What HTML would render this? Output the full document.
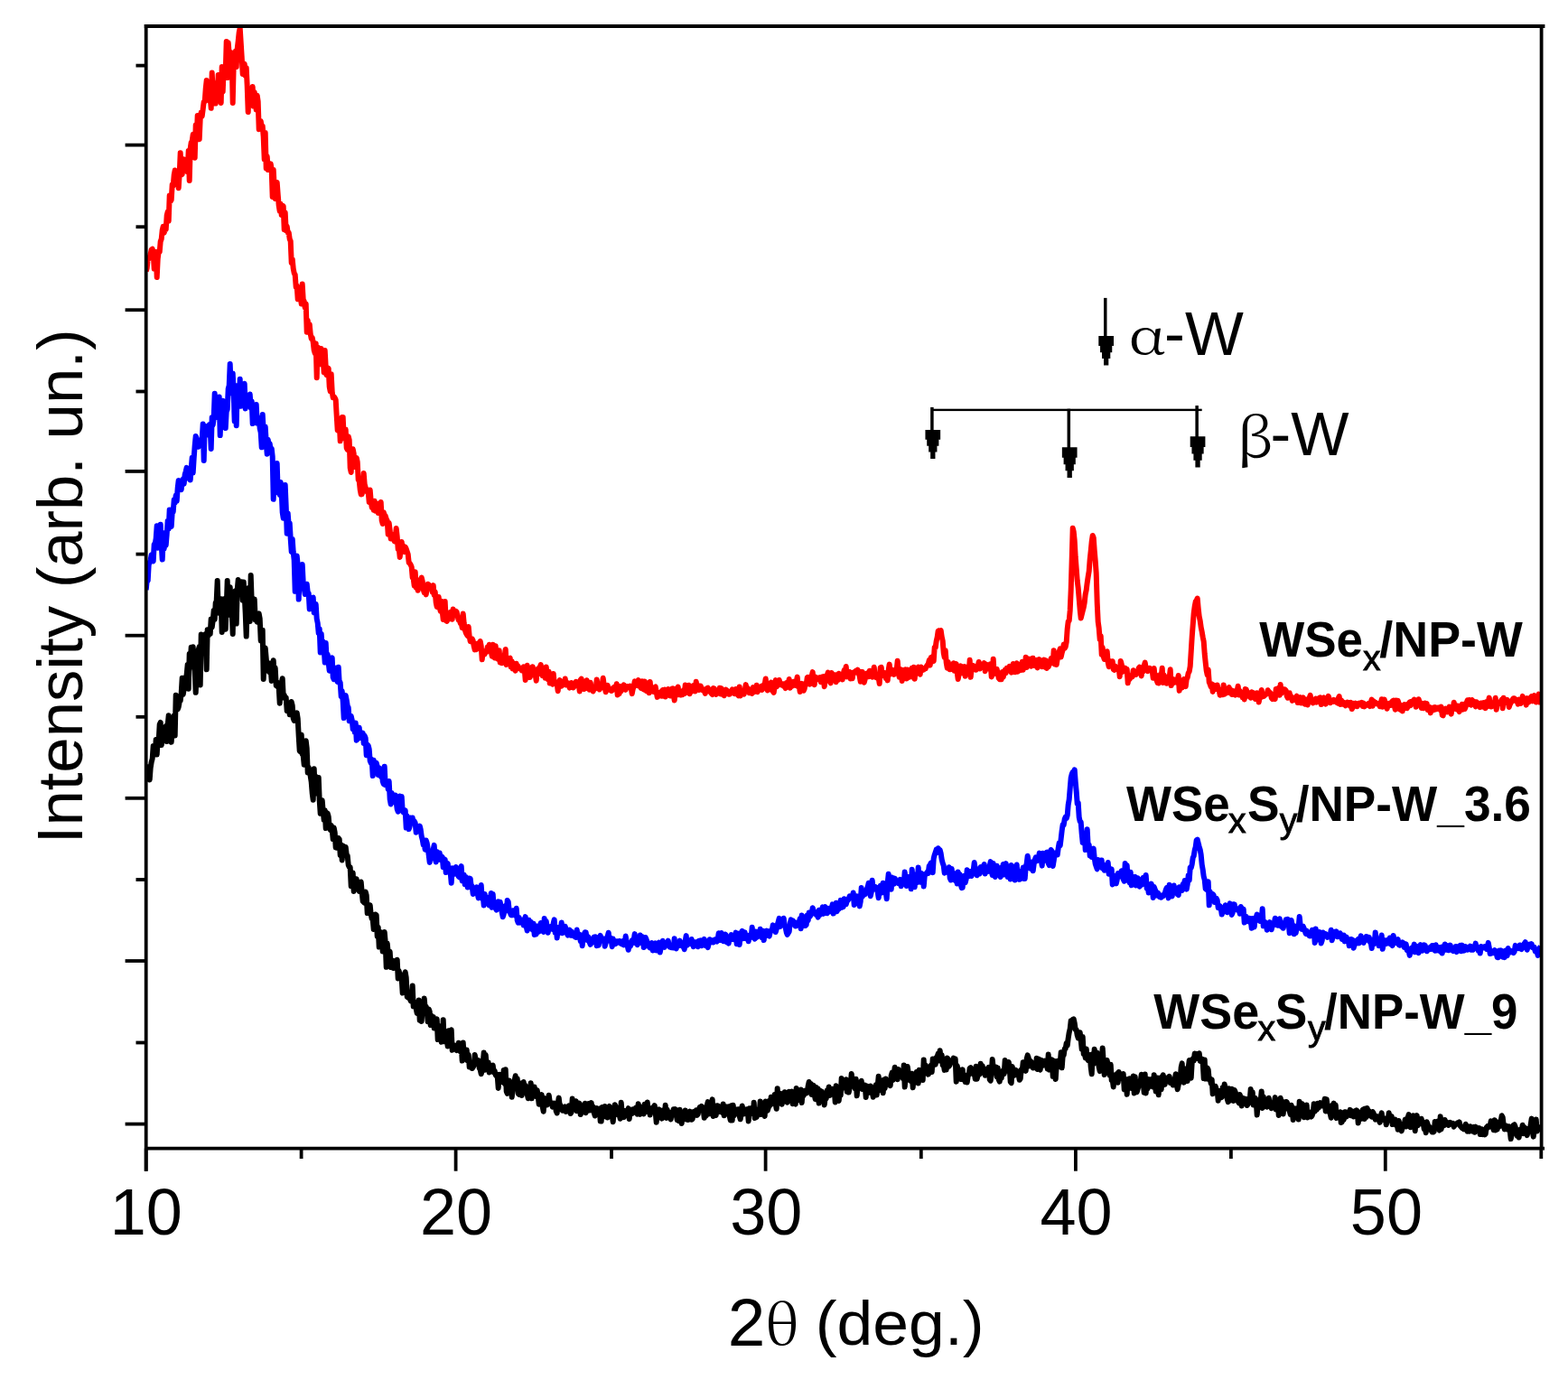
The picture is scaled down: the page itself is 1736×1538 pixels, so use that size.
<!DOCTYPE html>
<html><head><meta charset="utf-8"><title>XRD</title>
<style>
html,body{margin:0;padding:0;background:#fff;}
body{width:1736px;height:1538px;overflow:hidden;}
svg{display:block;}
.t{font-family:"Liberation Sans",Arial,sans-serif;fill:#000;}
.g{font-family:"Noto Serif CJK SC","Liberation Serif",serif;font-weight:400;fill:#000;}
.b{font-family:"Liberation Sans",Arial,sans-serif;font-weight:bold;fill:#000;}
</style></head>
<body>
<svg width="1736" height="1538" viewBox="0 0 1736 1538">
<rect x="0" y="0" width="1736" height="1538" fill="#fff"/>
<defs><clipPath id="pc"><rect x="161.7" y="0" width="1545" height="1300"/></clipPath></defs>
<g fill="none" stroke-width="6" stroke-linejoin="round" stroke-linecap="butt" clip-path="url(#pc)">
<path stroke="#ff0000" d="M161.7 300.5L162.7 297.0L163.7 286.8L164.7 286.6L165.7 284.7L166.7 280.8L167.7 276.4L168.7 275.7L169.7 279.3L170.7 297.6L171.7 287.8L172.7 279.0L173.7 307.0L174.7 286.7L175.7 278.2L176.7 279.0L177.7 267.3L178.7 264.7L179.7 254.8L180.7 250.7L181.7 257.7L182.7 254.2L183.7 254.1L184.7 238.6L185.7 234.6L186.7 244.8L187.7 216.5L188.7 223.1L189.7 221.3L190.7 204.5L191.7 205.7L192.7 193.9L193.7 188.5L194.7 200.9L195.7 197.5L196.7 198.0L197.7 208.3L198.7 192.9L199.7 169.3L200.7 190.2L201.7 193.1L202.7 182.0L203.7 176.4L204.7 179.0L205.7 183.1L206.7 180.2L207.7 190.4L208.7 167.1L209.7 200.0L210.7 164.4L211.7 157.8L212.7 156.2L213.7 148.8L214.7 156.6L215.7 174.7L216.7 138.5L217.7 154.1L218.7 127.9L219.7 138.2L220.7 154.2L221.7 131.6L222.7 124.3L223.7 128.7L224.7 121.0L225.7 112.9L226.7 112.5L227.7 98.4L228.7 89.1L229.7 107.7L230.7 98.1L231.7 111.6L232.7 107.1L233.7 119.8L234.7 80.6L235.7 99.5L236.7 103.9L237.7 95.4L238.7 114.6L239.7 92.1L240.7 103.3L241.7 82.9L242.7 101.0L243.7 107.8L244.7 114.0L245.7 74.1L246.7 101.3L247.7 76.5L248.7 74.7L249.7 81.0L250.7 46.1L251.7 86.1L252.7 47.2L253.7 59.4L254.7 71.3L255.7 58.0L256.7 65.6L257.7 114.0L258.7 71.8L259.7 60.8L260.7 56.9L261.7 74.1L262.7 54.0L263.7 45.5L264.7 35.9L265.7 31.0L266.7 47.2L267.7 63.3L268.7 81.9L269.7 76.0L270.7 70.8L271.7 83.8L272.7 75.0L273.7 95.4L274.7 124.0L275.7 100.2L276.7 104.2L277.7 115.3L278.7 109.2L279.7 96.1L280.7 117.5L281.7 102.0L282.7 107.1L283.7 121.5L284.7 105.7L285.7 112.5L286.7 143.2L287.7 134.1L288.7 134.1L289.7 140.2L290.7 139.7L291.7 151.6L292.7 176.5L293.7 147.1L294.7 186.4L295.7 173.1L296.7 188.0L297.7 182.8L298.7 185.9L299.7 181.4L300.7 187.9L301.7 218.0L302.7 188.0L303.7 206.8L304.7 219.9L305.7 205.9L306.7 202.0L307.7 215.5L308.7 227.5L309.7 233.8L310.7 225.8L311.7 238.1L312.7 229.3L313.7 228.3L314.7 254.2L315.7 235.5L316.7 255.2L317.7 250.7L318.7 257.5L319.7 257.5L320.7 264.7L321.7 266.9L322.7 290.9L323.7 286.8L324.7 297.3L325.7 302.5L326.7 304.3L327.7 317.8L328.7 316.5L329.7 331.3L330.7 323.1L331.7 329.6L332.7 328.0L333.7 336.6L334.7 314.6L335.7 331.6L336.7 333.6L337.7 340.6L338.7 336.3L339.7 367.7L340.7 354.7L341.7 368.0L342.7 359.0L343.7 369.5L344.7 374.9L345.7 373.9L346.7 378.8L347.7 387.8L348.7 391.3L349.7 380.4L350.7 418.2L351.7 386.1L352.7 385.2L353.7 393.7L354.7 403.2L355.7 386.1L356.7 401.1L357.7 396.3L358.7 412.4L359.7 388.1L360.7 406.1L361.7 415.3L362.7 408.8L363.7 408.0L364.7 428.1L365.7 433.4L366.7 414.3L367.7 433.7L368.7 440.3L369.7 439.2L370.7 440.5L371.7 442.7L372.7 460.2L373.7 476.4L374.7 468.0L375.7 465.8L376.7 488.3L377.7 476.2L378.7 461.9L379.7 461.9L380.7 485.0L381.7 483.7L382.7 475.6L383.7 495.9L384.7 498.0L385.7 483.2L386.7 487.2L387.7 518.2L388.7 523.0L389.7 501.4L390.7 497.2L391.7 502.4L392.7 517.1L393.7 516.8L394.7 507.0L395.7 511.4L396.7 531.4L397.7 532.2L398.7 542.2L399.7 547.4L400.7 547.3L401.7 541.6L402.7 524.1L403.7 536.4L404.7 539.7L405.7 542.7L406.7 545.0L407.7 545.1L408.7 556.0L409.7 542.4L410.7 554.8L411.7 561.9L412.7 559.1L413.7 564.8L414.7 554.8L415.7 565.8L416.7 557.2L417.7 562.3L418.7 568.0L419.7 564.6L420.7 566.0L421.7 556.0L422.7 576.3L423.7 580.0L424.7 567.3L425.7 570.2L426.7 571.3L427.7 574.6L428.7 576.6L429.7 591.6L430.7 579.0L431.7 587.3L432.7 596.5L433.7 591.4L434.7 596.1L435.7 596.2L436.7 599.3L437.7 594.8L438.7 585.0L439.7 594.1L440.7 608.1L441.7 607.0L442.7 616.9L443.7 609.1L444.7 599.9L445.7 607.0L446.7 604.6L447.7 611.1L448.7 605.7L449.7 607.6L450.7 610.6L451.7 613.6L452.7 623.0L453.7 623.8L454.7 625.4L455.7 627.8L456.7 639.6L457.7 640.6L458.7 648.7L459.7 633.2L460.7 650.6L461.7 646.0L462.7 653.8L463.7 646.1L464.7 642.4L465.7 646.1L466.7 639.5L467.7 643.4L468.7 652.8L469.7 656.3L470.7 652.1L471.7 658.4L472.7 652.1L473.7 646.7L474.7 647.6L475.7 650.4L476.7 649.2L477.7 649.5L478.7 655.6L479.7 648.1L480.7 658.7L481.7 655.3L482.7 667.1L483.7 671.9L484.7 667.2L485.7 661.0L486.7 672.9L487.7 676.6L488.7 665.8L489.7 676.7L490.7 685.9L491.7 684.1L492.7 666.1L493.7 687.1L494.7 687.9L495.7 681.9L496.7 685.7L497.7 681.9L498.7 677.9L499.7 680.9L500.7 685.8L501.7 674.5L502.7 677.9L503.7 680.8L504.7 676.6L505.7 677.9L506.7 682.6L507.7 686.6L508.7 685.4L509.7 690.2L510.7 689.8L511.7 695.2L512.7 679.6L513.7 690.0L514.7 697.2L515.7 700.5L516.7 702.4L517.7 704.1L518.7 694.1L519.7 704.9L520.7 710.1L521.7 708.6L522.7 707.4L523.7 709.4L524.7 715.4L525.7 719.4L526.7 718.0L527.7 719.0L528.7 712.6L529.7 713.9L530.7 717.6L531.7 710.0L532.7 715.4L533.7 730.3L534.7 721.7L535.7 721.1L536.7 724.3L537.7 721.6L538.7 722.0L539.7 716.6L540.7 720.6L541.7 713.8L542.7 716.9L543.7 720.9L544.7 726.6L545.7 713.7L546.7 725.1L547.7 728.3L548.7 715.3L549.7 728.5L550.7 729.6L551.7 727.7L552.7 720.3L553.7 733.5L554.7 726.1L555.7 734.3L556.7 729.0L557.7 728.2L558.7 725.9L559.7 719.0L560.7 736.0L561.7 732.4L562.7 731.0L563.7 729.2L564.7 728.7L565.7 738.4L566.7 732.1L567.7 740.6L568.7 734.4L569.7 739.1L570.7 742.7L571.7 734.8L572.7 740.1L573.7 737.8L574.7 740.0L575.7 739.9L576.7 741.0L577.7 742.4L578.7 740.5L579.7 738.3L580.7 740.5L581.7 753.0L582.7 743.8L583.7 736.7L584.7 742.1L585.7 741.1L586.7 750.1L587.7 742.9L588.7 747.7L589.7 738.2L590.7 742.9L591.7 746.4L592.7 746.6L593.7 753.8L594.7 742.7L595.7 740.4L596.7 746.1L597.7 738.9L598.7 736.1L599.7 741.2L600.7 748.3L601.7 746.3L602.7 742.7L603.7 750.8L604.7 738.4L605.7 748.5L606.7 752.2L607.7 743.7L608.7 756.5L609.7 751.8L610.7 756.2L611.7 757.7L612.7 745.9L613.7 756.6L614.7 755.8L615.7 757.0L616.7 757.1L617.7 765.2L618.7 755.0L619.7 753.1L620.7 756.5L621.7 759.6L622.7 757.6L623.7 757.0L624.7 756.2L625.7 751.5L626.7 758.5L627.7 757.0L628.7 756.3L629.7 756.4L630.7 761.6L631.7 758.5L632.7 756.1L633.7 758.7L634.7 761.5L635.7 760.2L636.7 757.1L637.7 754.8L638.7 756.5L639.7 756.6L640.7 757.1L641.7 765.4L642.7 752.9L643.7 751.6L644.7 759.6L645.7 756.6L646.7 763.1L647.7 759.3L648.7 762.2L649.7 753.2L650.7 757.1L651.7 757.3L652.7 763.7L653.7 755.8L654.7 761.6L655.7 761.8L656.7 765.5L657.7 762.0L658.7 760.3L659.7 762.1L660.7 752.6L661.7 758.7L662.7 761.3L663.7 763.5L664.7 762.2L665.7 759.1L666.7 757.9L667.7 750.8L668.7 758.1L669.7 761.7L670.7 766.3L671.7 762.6L672.7 758.9L673.7 763.4L674.7 763.4L675.7 764.2L676.7 765.0L677.7 764.5L678.7 761.8L679.7 761.0L680.7 763.1L681.7 761.2L682.7 757.2L683.7 769.5L684.7 762.9L685.7 768.0L686.7 760.1L687.7 765.3L688.7 761.6L689.7 761.9L690.7 758.4L691.7 761.1L692.7 763.8L693.7 759.9L694.7 759.9L695.7 760.5L696.7 761.0L697.7 759.8L698.7 761.5L699.7 768.1L700.7 763.1L701.7 760.1L702.7 754.4L703.7 756.3L704.7 758.9L705.7 755.7L706.7 753.1L707.7 759.8L708.7 756.5L709.7 762.0L710.7 754.3L711.7 762.7L712.7 763.5L713.7 754.4L714.7 760.8L715.7 765.2L716.7 760.3L717.7 756.3L718.7 767.2L719.7 754.9L720.7 765.5L721.7 761.2L722.7 762.9L723.7 766.0L724.7 761.2L725.7 760.5L726.7 766.3L727.7 771.9L728.7 770.6L729.7 770.7L730.7 767.3L731.7 766.1L732.7 770.8L733.7 764.0L734.7 764.4L735.7 763.7L736.7 771.6L737.7 768.7L738.7 769.3L739.7 763.0L740.7 766.2L741.7 770.4L742.7 770.4L743.7 762.6L744.7 762.3L745.7 768.1L746.7 775.5L747.7 765.3L748.7 762.7L749.7 763.3L750.7 760.6L751.7 769.3L752.7 769.0L753.7 769.5L754.7 766.3L755.7 769.1L756.7 764.3L757.7 768.2L758.7 758.5L759.7 766.9L760.7 766.3L761.7 762.9L762.7 758.7L763.7 768.2L764.7 763.6L765.7 764.8L766.7 765.2L767.7 759.1L768.7 762.0L769.7 765.4L770.7 754.7L771.7 761.6L772.7 759.0L773.7 764.0L774.7 762.1L775.7 759.5L776.7 762.3L777.7 764.2L778.7 764.8L779.7 763.8L780.7 767.9L781.7 763.9L782.7 762.1L783.7 761.6L784.7 765.1L785.7 763.6L786.7 766.7L787.7 767.9L788.7 769.0L789.7 762.0L790.7 762.3L791.7 765.9L792.7 768.9L793.7 766.8L794.7 767.1L795.7 766.9L796.7 761.8L797.7 768.4L798.7 762.3L799.7 766.8L800.7 769.5L801.7 770.1L802.7 766.9L803.7 763.7L804.7 764.4L805.7 765.6L806.7 768.7L807.7 768.8L808.7 765.7L809.7 765.3L810.7 763.4L811.7 767.4L812.7 764.7L813.7 768.3L814.7 763.0L815.7 767.0L816.7 768.3L817.7 770.3L818.7 760.4L819.7 770.4L820.7 764.4L821.7 766.4L822.7 767.6L823.7 768.6L824.7 764.2L825.7 758.1L826.7 764.0L827.7 761.7L828.7 764.0L829.7 767.3L830.7 765.6L831.7 765.2L832.7 767.9L833.7 761.1L834.7 766.2L835.7 763.8L836.7 763.8L837.7 758.7L838.7 766.2L839.7 762.7L840.7 763.8L841.7 763.4L842.7 760.2L843.7 763.9L844.7 759.0L845.7 759.1L846.7 757.6L847.7 751.5L848.7 762.0L849.7 764.5L850.7 759.3L851.7 763.5L852.7 757.0L853.7 755.7L854.7 759.7L855.7 765.5L856.7 766.8L857.7 759.5L858.7 753.1L859.7 760.4L860.7 759.0L861.7 756.7L862.7 753.0L863.7 757.1L864.7 758.3L865.7 758.6L866.7 757.5L867.7 759.6L868.7 757.4L869.7 762.1L870.7 756.0L871.7 756.8L872.7 759.5L873.7 752.0L874.7 761.8L875.7 756.2L876.7 759.9L877.7 757.8L878.7 754.8L879.7 755.0L880.7 759.0L881.7 755.2L882.7 749.6L883.7 760.2L884.7 759.9L885.7 766.0L886.7 759.3L887.7 756.9L888.7 759.6L889.7 764.8L890.7 762.5L891.7 756.6L892.7 757.9L893.7 750.3L894.7 749.8L895.7 753.4L896.7 757.7L897.7 751.9L898.7 748.4L899.7 744.1L900.7 754.5L901.7 758.2L902.7 749.5L903.7 751.3L904.7 751.5L905.7 751.9L906.7 750.4L907.7 750.1L908.7 755.3L909.7 749.7L910.7 749.3L911.7 749.0L912.7 760.2L913.7 752.8L914.7 752.3L915.7 747.7L916.7 744.7L917.7 752.1L918.7 754.3L919.7 756.3L920.7 744.9L921.7 749.6L922.7 752.6L923.7 747.1L924.7 749.6L925.7 755.2L926.7 746.9L927.7 753.0L928.7 745.8L929.7 749.2L930.7 748.8L931.7 749.4L932.7 752.5L933.7 746.0L934.7 742.0L935.7 744.3L936.7 738.0L937.7 749.6L938.7 746.3L939.7 747.8L940.7 744.0L941.7 751.6L942.7 745.6L943.7 751.2L944.7 744.6L945.7 745.2L946.7 743.6L947.7 742.7L948.7 744.3L949.7 741.7L950.7 745.3L951.7 748.9L952.7 754.8L953.7 744.0L954.7 743.9L955.7 752.9L956.7 755.7L957.7 752.1L958.7 746.1L959.7 745.6L960.7 745.1L961.7 749.3L962.7 742.7L963.7 743.2L964.7 744.5L965.7 749.7L966.7 746.7L967.7 738.7L968.7 746.7L969.7 750.0L970.7 746.9L971.7 751.0L972.7 750.3L973.7 757.1L974.7 739.3L975.7 738.9L976.7 746.9L977.7 747.8L978.7 747.0L979.7 745.2L980.7 751.0L981.7 747.8L982.7 753.4L983.7 741.7L984.7 735.6L985.7 746.5L986.7 745.4L987.7 744.1L988.7 741.9L989.7 746.9L990.7 744.2L991.7 743.5L992.7 741.8L993.7 731.7L994.7 745.1L995.7 749.8L996.7 740.9L997.7 743.2L998.7 754.1L999.7 742.0L1000.7 747.2L1001.7 746.7L1002.7 741.4L1003.7 751.4L1004.7 741.6L1005.7 747.5L1006.7 749.8L1007.7 741.4L1008.7 745.2L1009.7 739.7L1010.7 749.7L1011.7 738.8L1012.7 751.8L1013.7 741.0L1014.7 745.0L1015.7 741.1L1016.7 738.6L1017.7 744.6L1018.7 746.7L1019.7 738.6L1020.7 742.4L1021.7 741.0L1022.7 741.5L1023.7 739.8L1024.7 740.2L1025.7 737.9L1026.7 736.4L1027.7 735.2L1028.7 731.1L1029.7 736.6L1030.7 728.1L1031.7 729.1L1032.7 726.9L1033.7 732.1L1034.7 716.9L1035.7 717.0L1036.7 709.7L1037.7 705.5L1038.7 698.5L1039.7 698.2L1040.7 698.9L1041.7 698.1L1042.7 705.2L1043.7 709.6L1044.7 722.8L1045.7 727.8L1046.7 720.3L1047.7 733.8L1048.7 739.6L1049.7 732.9L1050.7 737.9L1051.7 741.3L1052.7 738.2L1053.7 741.0L1054.7 740.6L1055.7 734.3L1056.7 742.8L1057.7 738.7L1058.7 735.1L1059.7 744.7L1060.7 752.0L1061.7 746.7L1062.7 739.8L1063.7 737.4L1064.7 742.6L1065.7 741.5L1066.7 745.8L1067.7 738.1L1068.7 748.7L1069.7 739.6L1070.7 738.7L1071.7 741.7L1072.7 744.1L1073.7 730.8L1074.7 749.8L1075.7 738.2L1076.7 738.5L1077.7 737.2L1078.7 740.6L1079.7 741.5L1080.7 741.7L1081.7 739.3L1082.7 737.6L1083.7 733.0L1084.7 740.6L1085.7 735.1L1086.7 739.0L1087.7 736.9L1088.7 738.9L1089.7 734.1L1090.7 743.2L1091.7 735.4L1092.7 736.3L1093.7 736.5L1094.7 740.6L1095.7 740.7L1096.7 735.2L1097.7 749.4L1098.7 747.4L1099.7 729.7L1100.7 746.1L1101.7 740.5L1102.7 744.4L1103.7 741.0L1104.7 745.9L1105.7 750.8L1106.7 752.0L1107.7 747.3L1108.7 752.3L1109.7 743.9L1110.7 749.6L1111.7 746.1L1112.7 741.9L1113.7 745.1L1114.7 739.8L1115.7 740.1L1116.7 741.9L1117.7 737.9L1118.7 740.4L1119.7 744.6L1120.7 743.3L1121.7 734.9L1122.7 740.2L1123.7 744.3L1124.7 737.0L1125.7 734.4L1126.7 743.7L1127.7 738.5L1128.7 736.8L1129.7 742.3L1130.7 735.9L1131.7 732.8L1132.7 741.8L1133.7 734.7L1134.7 739.3L1135.7 727.7L1136.7 739.1L1137.7 736.9L1138.7 729.4L1139.7 734.8L1140.7 735.1L1141.7 737.7L1142.7 729.0L1143.7 728.8L1144.7 735.1L1145.7 737.0L1146.7 731.4L1147.7 730.9L1148.7 739.4L1149.7 735.1L1150.7 730.1L1151.7 734.1L1152.7 734.6L1153.7 738.1L1154.7 733.2L1155.7 730.6L1156.7 738.5L1157.7 731.1L1158.7 740.0L1159.7 737.1L1160.7 738.2L1161.7 736.0L1162.7 732.4L1163.7 729.1L1164.7 729.3L1165.7 734.1L1166.7 720.3L1167.7 735.4L1168.7 725.0L1169.7 735.9L1170.7 729.8L1171.7 726.1L1172.7 721.4L1173.7 718.3L1174.7 727.4L1175.7 722.8L1176.7 719.5L1177.7 713.5L1178.7 717.8L1179.7 716.2L1180.7 711.0L1181.7 696.4L1182.7 688.2L1183.7 687.3L1184.7 675.9L1185.7 653.1L1186.7 619.8L1187.7 584.8L1188.7 588.8L1189.7 598.9L1190.7 617.1L1191.7 629.8L1192.7 642.9L1193.7 651.1L1194.7 663.1L1195.7 675.1L1196.7 684.4L1197.7 680.6L1198.7 676.6L1199.7 672.8L1200.7 667.2L1201.7 658.0L1202.7 653.4L1203.7 645.2L1204.7 638.5L1205.7 632.4L1206.7 619.2L1207.7 610.0L1208.7 599.8L1209.7 592.9L1210.7 595.3L1211.7 609.5L1212.7 620.7L1213.7 634.8L1214.7 667.7L1215.7 688.3L1216.7 695.7L1217.7 708.0L1218.7 704.2L1219.7 724.5L1220.7 717.0L1221.7 727.1L1222.7 730.0L1223.7 728.1L1224.7 728.6L1225.7 721.2L1226.7 733.5L1227.7 738.2L1228.7 732.8L1229.7 732.4L1230.7 735.6L1231.7 732.2L1232.7 741.2L1233.7 742.0L1234.7 737.7L1235.7 739.8L1236.7 739.5L1237.7 740.5L1238.7 739.7L1239.7 749.2L1240.7 731.9L1241.7 735.3L1242.7 744.0L1243.7 739.1L1244.7 742.2L1245.7 739.7L1246.7 741.3L1247.7 741.0L1248.7 756.3L1249.7 748.1L1250.7 752.1L1251.7 748.8L1252.7 748.7L1253.7 749.3L1254.7 742.2L1255.7 743.3L1256.7 743.4L1257.7 747.0L1258.7 744.9L1259.7 744.7L1260.7 739.9L1261.7 738.6L1262.7 740.3L1263.7 748.5L1264.7 739.8L1265.7 743.5L1266.7 736.9L1267.7 733.7L1268.7 739.6L1269.7 741.5L1270.7 743.1L1271.7 741.9L1272.7 739.8L1273.7 740.9L1274.7 742.8L1275.7 742.6L1276.7 750.8L1277.7 740.1L1278.7 749.7L1279.7 747.2L1280.7 753.6L1281.7 756.2L1282.7 756.5L1283.7 754.2L1284.7 746.8L1285.7 748.9L1286.7 739.8L1287.7 756.0L1288.7 747.5L1289.7 751.9L1290.7 751.0L1291.7 756.7L1292.7 749.9L1293.7 755.3L1294.7 749.8L1295.7 741.3L1296.7 759.1L1297.7 753.6L1298.7 756.4L1299.7 752.4L1300.7 754.5L1301.7 755.4L1302.7 755.7L1303.7 752.9L1304.7 748.0L1305.7 764.8L1306.7 753.3L1307.7 761.2L1308.7 761.4L1309.7 754.8L1310.7 752.1L1311.7 755.8L1312.7 760.1L1313.7 752.1L1314.7 750.1L1315.7 745.2L1316.7 743.5L1317.7 737.8L1318.7 721.7L1319.7 705.5L1320.7 692.0L1321.7 678.8L1322.7 671.4L1323.7 666.2L1324.7 664.9L1325.7 662.5L1326.7 673.7L1327.7 682.7L1328.7 687.3L1329.7 694.6L1330.7 699.5L1331.7 705.5L1332.7 710.4L1333.7 723.9L1334.7 733.6L1335.7 742.6L1336.7 747.4L1337.7 741.5L1338.7 755.3L1339.7 757.7L1340.7 760.5L1341.7 757.3L1342.7 765.9L1343.7 758.4L1344.7 761.6L1345.7 763.1L1346.7 761.0L1347.7 758.6L1348.7 763.0L1349.7 764.5L1350.7 769.8L1351.7 766.3L1352.7 764.8L1353.7 769.3L1354.7 758.4L1355.7 768.8L1356.7 767.4L1357.7 763.0L1358.7 767.1L1359.7 766.7L1360.7 761.0L1361.7 764.4L1362.7 763.9L1363.7 769.0L1364.7 768.9L1365.7 765.1L1366.7 765.7L1367.7 769.6L1368.7 767.3L1369.7 764.7L1370.7 759.7L1371.7 769.5L1372.7 765.0L1373.7 767.0L1374.7 766.6L1375.7 772.3L1376.7 769.0L1377.7 774.5L1378.7 763.0L1379.7 763.3L1380.7 766.7L1381.7 770.7L1382.7 767.9L1383.7 767.4L1384.7 772.7L1385.7 766.3L1386.7 771.6L1387.7 767.2L1388.7 771.6L1389.7 773.9L1390.7 772.4L1391.7 767.3L1392.7 767.6L1393.7 777.5L1394.7 771.7L1395.7 772.5L1396.7 764.0L1397.7 771.2L1398.7 771.2L1399.7 770.6L1400.7 769.1L1401.7 768.9L1402.7 767.8L1403.7 764.2L1404.7 767.3L1405.7 766.5L1406.7 767.5L1407.7 772.7L1408.7 774.1L1409.7 769.4L1410.7 771.8L1411.7 774.1L1412.7 762.9L1413.7 768.7L1414.7 767.0L1415.7 761.7L1416.7 769.8L1417.7 758.0L1418.7 767.8L1419.7 762.6L1420.7 764.8L1421.7 765.1L1422.7 763.5L1423.7 764.5L1424.7 770.6L1425.7 772.7L1426.7 767.6L1427.7 767.4L1428.7 772.2L1429.7 771.3L1430.7 775.9L1431.7 774.3L1432.7 775.0L1433.7 774.1L1434.7 772.3L1435.7 770.7L1436.7 778.0L1437.7 776.8L1438.7 777.8L1439.7 772.1L1440.7 778.5L1441.7 774.1L1442.7 772.4L1443.7 774.6L1444.7 779.7L1445.7 774.4L1446.7 778.4L1447.7 780.5L1448.7 775.9L1449.7 772.6L1450.7 769.9L1451.7 777.1L1452.7 775.1L1453.7 778.3L1454.7 775.2L1455.7 776.0L1456.7 773.5L1457.7 777.7L1458.7 774.6L1459.7 774.6L1460.7 772.7L1461.7 772.3L1462.7 780.1L1463.7 775.3L1464.7 773.9L1465.7 772.4L1466.7 775.3L1467.7 779.6L1468.7 775.3L1469.7 774.3L1470.7 770.8L1471.7 773.7L1472.7 778.2L1473.7 775.9L1474.7 776.3L1475.7 776.9L1476.7 774.9L1477.7 776.0L1478.7 776.5L1479.7 777.7L1480.7 778.5L1481.7 773.3L1482.7 771.1L1483.7 780.0L1484.7 775.1L1485.7 776.5L1486.7 779.8L1487.7 777.7L1488.7 780.1L1489.7 781.3L1490.7 778.7L1491.7 777.7L1492.7 778.5L1493.7 778.1L1494.7 781.7L1495.7 777.8L1496.7 785.1L1497.7 783.5L1498.7 778.9L1499.7 780.3L1500.7 778.7L1501.7 781.7L1502.7 782.2L1503.7 779.1L1504.7 778.5L1505.7 779.9L1506.7 780.3L1507.7 777.9L1508.7 782.0L1509.7 778.6L1510.7 782.4L1511.7 781.2L1512.7 780.3L1513.7 780.7L1514.7 779.2L1515.7 780.5L1516.7 782.0L1517.7 777.7L1518.7 774.5L1519.7 781.8L1520.7 776.2L1521.7 778.9L1522.7 777.7L1523.7 778.4L1524.7 779.6L1525.7 779.4L1526.7 778.8L1527.7 782.1L1528.7 779.2L1529.7 774.3L1530.7 782.8L1531.7 777.0L1532.7 774.5L1533.7 777.9L1534.7 779.7L1535.7 784.8L1536.7 779.4L1537.7 780.5L1538.7 778.7L1539.7 780.9L1540.7 778.2L1541.7 776.3L1542.7 775.6L1543.7 780.7L1544.7 785.7L1545.7 775.6L1546.7 777.5L1547.7 775.9L1548.7 778.7L1549.7 785.5L1550.7 785.9L1551.7 781.1L1552.7 787.4L1553.7 781.2L1554.7 780.3L1555.7 782.3L1556.7 780.3L1557.7 784.3L1558.7 782.5L1559.7 779.0L1560.7 777.6L1561.7 781.1L1562.7 776.7L1563.7 779.3L1564.7 776.8L1565.7 774.6L1566.7 775.1L1567.7 782.8L1568.7 776.7L1569.7 779.8L1570.7 774.3L1571.7 777.8L1572.7 779.0L1573.7 784.0L1574.7 778.9L1575.7 784.3L1576.7 781.1L1577.7 778.6L1578.7 780.1L1579.7 779.1L1580.7 786.0L1581.7 782.8L1582.7 782.8L1583.7 789.4L1584.7 785.6L1585.7 785.6L1586.7 783.7L1587.7 786.1L1588.7 783.2L1589.7 785.5L1590.7 785.2L1591.7 783.7L1592.7 783.4L1593.7 783.6L1594.7 786.2L1595.7 782.6L1596.7 791.8L1597.7 792.3L1598.7 787.0L1599.7 785.8L1600.7 784.6L1601.7 786.3L1602.7 788.4L1603.7 787.5L1604.7 782.6L1605.7 785.3L1606.7 790.6L1607.7 784.3L1608.7 784.7L1609.7 777.7L1610.7 782.6L1611.7 785.0L1612.7 785.4L1613.7 781.5L1614.7 784.3L1615.7 788.1L1616.7 781.4L1617.7 782.9L1618.7 779.8L1619.7 785.6L1620.7 779.9L1621.7 785.0L1622.7 782.7L1623.7 778.0L1624.7 775.4L1625.7 779.8L1626.7 775.0L1627.7 775.9L1628.7 780.7L1629.7 775.0L1630.7 776.6L1631.7 776.6L1632.7 779.3L1633.7 782.3L1634.7 777.2L1635.7 778.7L1636.7 779.2L1637.7 779.4L1638.7 783.1L1639.7 778.5L1640.7 781.5L1641.7 782.5L1642.7 778.1L1643.7 778.6L1644.7 784.1L1645.7 777.0L1646.7 782.3L1647.7 778.4L1648.7 772.6L1649.7 778.7L1650.7 782.5L1651.7 782.3L1652.7 781.7L1653.7 781.2L1654.7 779.3L1655.7 772.8L1656.7 785.7L1657.7 777.5L1658.7 777.5L1659.7 778.9L1660.7 779.0L1661.7 776.7L1662.7 774.7L1663.7 784.2L1664.7 772.8L1665.7 776.0L1666.7 777.6L1667.7 778.1L1668.7 774.8L1669.7 777.6L1670.7 783.0L1671.7 780.0L1672.7 778.2L1673.7 776.9L1674.7 774.4L1675.7 773.2L1676.7 773.2L1677.7 775.7L1678.7 776.6L1679.7 775.9L1680.7 779.6L1681.7 774.6L1682.7 776.0L1683.7 779.0L1684.7 776.9L1685.7 770.9L1686.7 773.9L1687.7 774.8L1688.7 774.4L1689.7 780.6L1690.7 773.1L1691.7 774.6L1692.7 777.4L1693.7 773.0L1694.7 772.4L1695.7 771.1L1696.7 776.4L1697.7 773.1L1698.7 770.2L1699.7 773.4L1700.7 777.5L1701.7 773.4L1702.7 773.0L1703.7 768.6L1704.7 777.6L1705.7 772.4"/>
<path stroke="#0000ff" d="M161.7 653.3L162.7 642.7L163.7 643.0L164.7 625.1L165.7 622.9L166.7 619.9L167.7 614.4L168.7 620.4L169.7 621.3L170.7 602.6L171.7 602.3L172.7 596.3L173.7 582.2L174.7 606.7L175.7 594.9L176.7 600.0L177.7 580.7L178.7 603.2L179.7 619.6L180.7 597.9L181.7 607.7L182.7 590.0L183.7 603.7L184.7 591.6L185.7 576.7L186.7 585.7L187.7 564.5L188.7 577.9L189.7 583.1L190.7 567.2L191.7 566.9L192.7 553.6L193.7 556.9L194.7 548.5L195.7 554.9L196.7 540.4L197.7 531.9L198.7 540.3L199.7 536.4L200.7 542.3L201.7 532.3L202.7 530.5L203.7 535.8L204.7 525.4L205.7 522.0L206.7 517.8L207.7 529.6L208.7 525.4L209.7 520.7L210.7 531.6L211.7 518.1L212.7 506.8L213.7 523.5L214.7 507.1L215.7 493.3L216.7 483.0L217.7 485.4L218.7 488.8L219.7 494.7L220.7 488.0L221.7 491.9L222.7 490.6L223.7 486.3L224.7 469.4L225.7 510.0L226.7 471.5L227.7 476.7L228.7 472.8L229.7 481.6L230.7 473.5L231.7 470.4L232.7 473.7L233.7 496.9L234.7 462.2L235.7 470.5L236.7 463.2L237.7 435.8L238.7 454.6L239.7 454.0L240.7 461.9L241.7 439.7L242.7 439.6L243.7 482.1L244.7 456.3L245.7 449.6L246.7 443.7L247.7 451.1L248.7 456.6L249.7 474.0L250.7 455.7L251.7 453.4L252.7 430.6L253.7 426.9L254.7 403.0L255.7 430.0L256.7 435.2L257.7 413.5L258.7 435.3L259.7 466.4L260.7 440.2L261.7 471.2L262.7 426.9L263.7 440.8L264.7 448.5L265.7 419.8L266.7 449.8L267.7 437.1L268.7 443.1L269.7 432.3L270.7 424.8L271.7 452.5L272.7 447.5L273.7 440.1L274.7 441.1L275.7 443.4L276.7 436.5L277.7 451.5L278.7 444.1L279.7 469.1L280.7 450.1L281.7 454.8L282.7 465.0L283.7 447.9L284.7 468.5L285.7 465.9L286.7 462.8L287.7 474.6L288.7 478.8L289.7 495.3L290.7 459.0L291.7 476.2L292.7 486.8L293.7 472.4L294.7 489.2L295.7 502.8L296.7 486.8L297.7 493.3L298.7 491.3L299.7 498.7L300.7 496.6L301.7 505.5L302.7 552.8L303.7 523.8L304.7 533.6L305.7 523.5L306.7 513.1L307.7 545.5L308.7 540.4L309.7 547.9L310.7 534.0L311.7 544.8L312.7 567.2L313.7 573.8L314.7 569.3L315.7 537.1L316.7 560.8L317.7 590.7L318.7 568.4L319.7 581.4L320.7 579.3L321.7 596.3L322.7 610.9L323.7 596.7L324.7 611.1L325.7 620.5L326.7 654.8L327.7 617.8L328.7 615.6L329.7 625.6L330.7 663.6L331.7 638.8L332.7 646.4L333.7 629.5L334.7 625.0L335.7 645.2L336.7 651.1L337.7 658.0L338.7 651.7L339.7 646.7L340.7 655.8L341.7 656.8L342.7 674.4L343.7 668.6L344.7 666.6L345.7 661.9L346.7 661.6L347.7 678.3L348.7 677.4L349.7 669.1L350.7 685.1L351.7 689.8L352.7 700.9L353.7 696.2L354.7 722.4L355.7 701.9L356.7 716.0L357.7 710.4L358.7 718.9L359.7 733.6L360.7 712.1L361.7 731.0L362.7 724.6L363.7 734.0L364.7 742.7L365.7 736.2L366.7 731.9L367.7 728.4L368.7 750.0L369.7 752.2L370.7 742.9L371.7 748.7L372.7 739.6L373.7 754.8L374.7 738.7L375.7 756.1L376.7 755.9L377.7 771.0L378.7 765.3L379.7 776.7L380.7 795.1L381.7 787.5L382.7 770.0L383.7 775.0L384.7 781.5L385.7 783.6L386.7 798.3L387.7 794.2L388.7 792.9L389.7 797.1L390.7 807.2L391.7 803.0L392.7 810.8L393.7 800.5L394.7 819.7L395.7 818.5L396.7 811.4L397.7 805.6L398.7 817.1L399.7 814.4L400.7 815.9L401.7 811.6L402.7 822.9L403.7 814.7L404.7 817.4L405.7 836.2L406.7 824.6L407.7 825.6L408.7 829.4L409.7 842.5L410.7 845.0L411.7 840.9L412.7 859.0L413.7 841.8L414.7 845.4L415.7 853.5L416.7 844.7L417.7 848.8L418.7 857.9L419.7 850.3L420.7 854.5L421.7 859.9L422.7 851.6L423.7 865.1L424.7 868.1L425.7 848.8L426.7 869.1L427.7 864.6L428.7 865.3L429.7 874.0L430.7 865.1L431.7 885.0L432.7 890.5L433.7 878.0L434.7 884.5L435.7 882.7L436.7 888.1L437.7 880.4L438.7 888.0L439.7 896.0L440.7 898.6L441.7 894.9L442.7 881.4L443.7 896.8L444.7 882.0L445.7 898.2L446.7 899.7L447.7 897.0L448.7 897.5L449.7 916.6L450.7 903.6L451.7 909.3L452.7 918.1L453.7 914.8L454.7 905.4L455.7 909.5L456.7 905.5L457.7 911.4L458.7 909.3L459.7 911.2L460.7 921.8L461.7 920.1L462.7 915.9L463.7 920.1L464.7 914.6L465.7 918.6L466.7 925.9L467.7 929.6L468.7 935.5L469.7 935.5L470.7 940.8L471.7 930.6L472.7 933.5L473.7 939.7L474.7 946.7L475.7 955.0L476.7 945.4L477.7 943.2L478.7 949.0L479.7 940.5L480.7 935.9L481.7 951.1L482.7 954.4L483.7 943.0L484.7 948.8L485.7 948.7L486.7 944.5L487.7 952.0L488.7 948.2L489.7 948.9L490.7 960.2L491.7 951.3L492.7 951.7L493.7 966.1L494.7 956.8L495.7 956.2L496.7 964.0L497.7 964.1L498.7 966.0L499.7 977.7L500.7 961.3L501.7 963.1L502.7 965.6L503.7 967.5L504.7 960.0L505.7 967.1L506.7 968.3L507.7 970.3L508.7 971.3L509.7 961.1L510.7 959.2L511.7 975.3L512.7 974.0L513.7 968.6L514.7 979.1L515.7 970.9L516.7 978.3L517.7 982.5L518.7 982.3L519.7 972.5L520.7 972.8L521.7 981.6L522.7 981.4L523.7 989.9L524.7 984.3L525.7 986.3L526.7 984.5L527.7 982.3L528.7 989.5L529.7 994.4L530.7 991.0L531.7 988.3L532.7 980.0L533.7 994.7L534.7 991.3L535.7 1002.5L536.7 990.0L537.7 1000.6L538.7 1000.1L539.7 994.0L540.7 996.0L541.7 1002.5L542.7 996.9L543.7 989.1L544.7 1004.8L545.7 989.9L546.7 1004.2L547.7 1003.4L548.7 1005.6L549.7 1007.6L550.7 1002.1L551.7 998.4L552.7 1000.2L553.7 998.8L554.7 1003.7L555.7 1010.1L556.7 1015.3L557.7 1012.3L558.7 1004.6L559.7 1002.8L560.7 1008.5L561.7 997.0L562.7 998.4L563.7 1007.8L564.7 1010.0L565.7 1013.2L566.7 1013.4L567.7 1008.3L568.7 1008.2L569.7 1011.0L570.7 1013.7L571.7 1005.8L572.7 1019.0L573.7 1021.7L574.7 1015.9L575.7 1021.6L576.7 1018.8L577.7 1020.3L578.7 1018.8L579.7 1024.4L580.7 1020.3L581.7 1015.1L582.7 1026.1L583.7 1030.5L584.7 1024.1L585.7 1018.8L586.7 1028.0L587.7 1020.6L588.7 1024.6L589.7 1029.6L590.7 1022.8L591.7 1035.1L592.7 1031.5L593.7 1034.3L594.7 1025.4L595.7 1027.5L596.7 1031.6L597.7 1028.7L598.7 1022.0L599.7 1025.4L600.7 1030.4L601.7 1031.9L602.7 1017.1L603.7 1028.0L604.7 1020.0L605.7 1026.0L606.7 1032.8L607.7 1027.2L608.7 1028.4L609.7 1026.2L610.7 1027.8L611.7 1028.8L612.7 1022.1L613.7 1018.4L614.7 1032.8L615.7 1027.5L616.7 1038.5L617.7 1026.9L618.7 1033.4L619.7 1031.5L620.7 1029.2L621.7 1021.4L622.7 1033.2L623.7 1029.6L624.7 1031.6L625.7 1025.8L626.7 1029.4L627.7 1033.7L628.7 1035.6L629.7 1031.8L630.7 1029.7L631.7 1035.6L632.7 1031.4L633.7 1036.0L634.7 1036.0L635.7 1033.6L636.7 1037.6L637.7 1037.9L638.7 1029.6L639.7 1037.2L640.7 1037.7L641.7 1034.5L642.7 1042.2L643.7 1037.9L644.7 1047.3L645.7 1036.0L646.7 1034.5L647.7 1032.2L648.7 1032.4L649.7 1041.0L650.7 1037.0L651.7 1037.8L652.7 1043.3L653.7 1045.8L654.7 1043.7L655.7 1040.4L656.7 1043.1L657.7 1037.5L658.7 1042.0L659.7 1037.4L660.7 1047.2L661.7 1044.1L662.7 1046.6L663.7 1041.5L664.7 1035.9L665.7 1040.5L666.7 1039.5L667.7 1039.5L668.7 1039.6L669.7 1047.8L670.7 1044.3L671.7 1039.0L672.7 1036.8L673.7 1032.7L674.7 1041.4L675.7 1038.3L676.7 1040.1L677.7 1048.2L678.7 1039.6L679.7 1042.4L680.7 1042.9L681.7 1045.1L682.7 1042.2L683.7 1042.3L684.7 1042.6L685.7 1042.0L686.7 1044.4L687.7 1042.9L688.7 1045.3L689.7 1042.2L690.7 1046.4L691.7 1044.6L692.7 1036.6L693.7 1042.9L694.7 1047.4L695.7 1051.8L696.7 1044.2L697.7 1047.8L698.7 1045.8L699.7 1041.3L700.7 1040.9L701.7 1041.1L702.7 1034.1L703.7 1044.3L704.7 1038.9L705.7 1046.2L706.7 1043.3L707.7 1040.2L708.7 1035.5L709.7 1044.0L710.7 1041.4L711.7 1037.4L712.7 1049.1L713.7 1047.6L714.7 1038.0L715.7 1040.6L716.7 1043.3L717.7 1047.8L718.7 1045.0L719.7 1049.5L720.7 1046.9L721.7 1044.1L722.7 1052.4L723.7 1047.2L724.7 1048.1L725.7 1044.3L726.7 1052.4L727.7 1047.9L728.7 1048.0L729.7 1043.6L730.7 1054.6L731.7 1049.7L732.7 1048.6L733.7 1041.8L734.7 1048.7L735.7 1048.9L736.7 1045.7L737.7 1045.8L738.7 1044.0L739.7 1041.7L740.7 1046.5L741.7 1048.6L742.7 1049.0L743.7 1049.3L744.7 1047.1L745.7 1049.5L746.7 1039.3L747.7 1049.4L748.7 1050.4L749.7 1045.0L750.7 1045.1L751.7 1047.0L752.7 1041.6L753.7 1046.2L754.7 1046.0L755.7 1048.0L756.7 1046.3L757.7 1051.2L758.7 1041.8L759.7 1036.1L760.7 1046.8L761.7 1042.7L762.7 1042.1L763.7 1045.0L764.7 1044.2L765.7 1040.0L766.7 1044.9L767.7 1048.1L768.7 1043.3L769.7 1043.5L770.7 1043.3L771.7 1044.7L772.7 1048.3L773.7 1041.8L774.7 1042.3L775.7 1041.5L776.7 1047.3L777.7 1043.2L778.7 1046.5L779.7 1039.9L780.7 1044.9L781.7 1047.2L782.7 1045.2L783.7 1049.1L784.7 1045.0L785.7 1040.2L786.7 1041.2L787.7 1043.2L788.7 1041.3L789.7 1043.5L790.7 1041.7L791.7 1040.3L792.7 1041.9L793.7 1042.6L794.7 1039.6L795.7 1033.2L796.7 1041.1L797.7 1041.0L798.7 1032.9L799.7 1040.7L800.7 1042.2L801.7 1041.3L802.7 1034.5L803.7 1035.2L804.7 1043.3L805.7 1039.7L806.7 1044.6L807.7 1038.1L808.7 1038.7L809.7 1035.1L810.7 1040.0L811.7 1036.2L812.7 1040.2L813.7 1037.5L814.7 1032.6L815.7 1045.3L816.7 1033.6L817.7 1035.9L818.7 1045.9L819.7 1035.5L820.7 1032.6L821.7 1030.8L822.7 1039.3L823.7 1036.9L824.7 1032.4L825.7 1039.3L826.7 1037.8L827.7 1036.6L828.7 1042.3L829.7 1035.6L830.7 1037.4L831.7 1037.0L832.7 1026.8L833.7 1038.0L834.7 1036.4L835.7 1039.6L836.7 1031.4L837.7 1038.0L838.7 1035.1L839.7 1036.7L840.7 1033.3L841.7 1028.7L842.7 1032.5L843.7 1038.3L844.7 1030.8L845.7 1041.1L846.7 1033.0L847.7 1036.4L848.7 1030.6L849.7 1031.0L850.7 1035.4L851.7 1036.5L852.7 1032.2L853.7 1030.1L854.7 1030.5L855.7 1024.4L856.7 1025.1L857.7 1026.3L858.7 1032.0L859.7 1028.8L860.7 1024.1L861.7 1020.6L862.7 1016.9L863.7 1026.0L864.7 1018.1L865.7 1020.5L866.7 1021.2L867.7 1016.8L868.7 1025.0L869.7 1027.1L870.7 1032.3L871.7 1034.9L872.7 1033.1L873.7 1031.5L874.7 1022.2L875.7 1018.4L876.7 1022.5L877.7 1019.3L878.7 1023.6L879.7 1021.1L880.7 1025.5L881.7 1025.1L882.7 1023.5L883.7 1023.7L884.7 1021.1L885.7 1017.2L886.7 1028.3L887.7 1013.6L888.7 1018.6L889.7 1016.9L890.7 1015.7L891.7 1025.1L892.7 1024.0L893.7 1013.6L894.7 1019.2L895.7 1010.5L896.7 1014.8L897.7 1013.0L898.7 1011.9L899.7 1005.2L900.7 1008.2L901.7 1010.1L902.7 1010.1L903.7 1012.9L904.7 1012.3L905.7 1015.7L906.7 1007.8L907.7 1013.1L908.7 1010.7L909.7 1010.2L910.7 1004.4L911.7 1011.9L912.7 1005.6L913.7 1004.2L914.7 1007.4L915.7 1011.3L916.7 1006.5L917.7 1005.8L918.7 1009.4L919.7 1008.1L920.7 1006.7L921.7 1001.4L922.7 1011.6L923.7 1006.2L924.7 1003.4L925.7 999.7L926.7 1009.2L927.7 1000.8L928.7 1006.7L929.7 1002.0L930.7 996.9L931.7 1005.0L932.7 1001.0L933.7 1004.1L934.7 995.3L935.7 1001.4L936.7 1001.3L937.7 997.9L938.7 996.9L939.7 995.3L940.7 992.3L941.7 992.7L942.7 994.1L943.7 992.7L944.7 988.5L945.7 1002.0L946.7 999.8L947.7 994.9L948.7 992.3L949.7 994.3L950.7 996.4L951.7 1003.4L952.7 998.5L953.7 983.1L954.7 993.0L955.7 989.4L956.7 988.8L957.7 990.3L958.7 988.6L959.7 984.5L960.7 981.9L961.7 977.7L962.7 984.8L963.7 992.2L964.7 988.0L965.7 974.8L966.7 985.0L967.7 981.7L968.7 981.7L969.7 982.4L970.7 985.1L971.7 987.3L972.7 994.2L973.7 984.1L974.7 980.9L975.7 985.2L976.7 988.5L977.7 977.7L978.7 980.7L979.7 981.5L980.7 986.9L981.7 995.3L982.7 977.4L983.7 967.7L984.7 980.9L985.7 972.9L986.7 984.8L987.7 971.6L988.7 973.4L989.7 978.9L990.7 972.6L991.7 974.7L992.7 976.7L993.7 977.4L994.7 978.3L995.7 977.9L996.7 973.8L997.7 981.3L998.7 976.9L999.7 975.2L1000.7 978.3L1001.7 965.6L1002.7 973.1L1003.7 981.1L1004.7 970.9L1005.7 971.0L1006.7 974.2L1007.7 973.8L1008.7 984.3L1009.7 962.7L1010.7 974.9L1011.7 974.9L1012.7 982.2L1013.7 968.3L1014.7 977.6L1015.7 976.4L1016.7 960.4L1017.7 975.4L1018.7 976.6L1019.7 966.8L1020.7 973.5L1021.7 968.0L1022.7 981.5L1023.7 970.2L1024.7 968.0L1025.7 967.1L1026.7 965.4L1027.7 966.9L1028.7 958.8L1029.7 957.8L1030.7 955.5L1031.7 962.3L1032.7 966.2L1033.7 950.6L1034.7 946.6L1035.7 943.9L1036.7 940.5L1037.7 943.9L1038.7 939.3L1039.7 940.6L1040.7 941.3L1041.7 945.1L1042.7 951.8L1043.7 955.7L1044.7 958.4L1045.7 966.7L1046.7 964.8L1047.7 964.4L1048.7 965.7L1049.7 964.2L1050.7 960.2L1051.7 972.3L1052.7 974.5L1053.7 961.9L1054.7 974.0L1055.7 966.6L1056.7 973.1L1057.7 975.0L1058.7 971.8L1059.7 978.5L1060.7 965.6L1061.7 971.7L1062.7 968.2L1063.7 979.2L1064.7 983.1L1065.7 982.8L1066.7 970.3L1067.7 969.8L1068.7 977.4L1069.7 973.2L1070.7 963.2L1071.7 967.6L1072.7 967.3L1073.7 969.9L1074.7 965.1L1075.7 970.0L1076.7 964.1L1077.7 963.5L1078.7 955.1L1079.7 961.9L1080.7 965.8L1081.7 969.3L1082.7 962.6L1083.7 965.8L1084.7 967.4L1085.7 960.1L1086.7 965.1L1087.7 963.0L1088.7 959.2L1089.7 957.0L1090.7 967.5L1091.7 962.2L1092.7 965.3L1093.7 960.4L1094.7 964.8L1095.7 958.8L1096.7 954.1L1097.7 964.4L1098.7 969.0L1099.7 956.1L1100.7 966.0L1101.7 971.0L1102.7 964.1L1103.7 958.8L1104.7 964.6L1105.7 966.7L1106.7 968.7L1107.7 971.0L1108.7 960.8L1109.7 963.6L1110.7 957.0L1111.7 968.6L1112.7 962.0L1113.7 956.1L1114.7 963.5L1115.7 971.0L1116.7 960.4L1117.7 966.0L1118.7 973.5L1119.7 957.9L1120.7 959.6L1121.7 968.5L1122.7 966.3L1123.7 974.6L1124.7 961.1L1125.7 957.5L1126.7 971.0L1127.7 964.7L1128.7 973.8L1129.7 973.5L1130.7 964.9L1131.7 967.4L1132.7 960.6L1133.7 973.1L1134.7 973.0L1135.7 959.9L1136.7 956.1L1137.7 947.7L1138.7 954.5L1139.7 956.5L1140.7 961.8L1141.7 956.8L1142.7 954.5L1143.7 964.3L1144.7 956.7L1145.7 952.3L1146.7 949.4L1147.7 953.4L1148.7 949.5L1149.7 951.6L1150.7 944.6L1151.7 947.4L1152.7 952.1L1153.7 958.6L1154.7 944.7L1155.7 952.4L1156.7 947.3L1157.7 952.6L1158.7 943.9L1159.7 943.5L1160.7 955.9L1161.7 958.1L1162.7 950.1L1163.7 941.1L1164.7 942.6L1165.7 958.9L1166.7 953.1L1167.7 945.1L1168.7 947.1L1169.7 944.2L1170.7 946.5L1171.7 939.1L1172.7 933.3L1173.7 936.5L1174.7 928.5L1175.7 919.6L1176.7 912.9L1177.7 913.3L1178.7 907.2L1179.7 904.6L1180.7 906.1L1181.7 902.9L1182.7 891.1L1183.7 885.2L1184.7 872.9L1185.7 861.3L1186.7 857.1L1187.7 854.9L1188.7 855.6L1189.7 852.3L1190.7 865.6L1191.7 876.2L1192.7 889.8L1193.7 888.8L1194.7 904.9L1195.7 909.6L1196.7 910.3L1197.7 923.2L1198.7 932.9L1199.7 922.9L1200.7 922.7L1201.7 941.1L1202.7 932.7L1203.7 918.3L1204.7 937.5L1205.7 935.5L1206.7 947.6L1207.7 939.4L1208.7 949.0L1209.7 940.8L1210.7 939.7L1211.7 949.8L1212.7 956.6L1213.7 959.4L1214.7 962.3L1215.7 951.9L1216.7 957.9L1217.7 959.7L1218.7 952.7L1219.7 952.5L1220.7 961.5L1221.7 961.1L1222.7 963.7L1223.7 958.4L1224.7 963.4L1225.7 961.9L1226.7 954.9L1227.7 967.7L1228.7 964.8L1229.7 966.7L1230.7 962.4L1231.7 979.4L1232.7 972.0L1233.7 969.8L1234.7 971.8L1235.7 978.4L1236.7 974.4L1237.7 966.9L1238.7 967.9L1239.7 969.3L1240.7 970.4L1241.7 964.3L1242.7 964.9L1243.7 973.6L1244.7 975.7L1245.7 955.9L1246.7 961.9L1247.7 958.2L1248.7 974.7L1249.7 974.0L1250.7 977.3L1251.7 965.8L1252.7 980.3L1253.7 979.4L1254.7 971.3L1255.7 973.7L1256.7 970.8L1257.7 980.4L1258.7 972.4L1259.7 972.2L1260.7 974.5L1261.7 981.7L1262.7 979.7L1263.7 978.1L1264.7 979.2L1265.7 971.7L1266.7 978.7L1267.7 978.9L1268.7 969.1L1269.7 983.6L1270.7 980.4L1271.7 988.6L1272.7 984.4L1273.7 983.0L1274.7 978.6L1275.7 982.8L1276.7 993.9L1277.7 982.1L1278.7 984.7L1279.7 986.9L1280.7 991.5L1281.7 988.5L1282.7 990.0L1283.7 993.2L1284.7 993.5L1285.7 993.7L1286.7 991.7L1287.7 992.2L1288.7 990.6L1289.7 989.1L1290.7 985.5L1291.7 983.1L1292.7 988.9L1293.7 994.4L1294.7 979.7L1295.7 986.1L1296.7 991.1L1297.7 992.4L1298.7 984.4L1299.7 980.5L1300.7 986.1L1301.7 985.2L1302.7 986.3L1303.7 990.2L1304.7 991.1L1305.7 982.3L1306.7 983.8L1307.7 982.3L1308.7 986.0L1309.7 979.0L1310.7 979.8L1311.7 975.1L1312.7 980.1L1313.7 984.6L1314.7 979.3L1315.7 969.3L1316.7 974.8L1317.7 960.8L1318.7 960.9L1319.7 957.0L1320.7 949.8L1321.7 947.7L1322.7 941.4L1323.7 937.9L1324.7 930.2L1325.7 929.6L1326.7 933.7L1327.7 937.5L1328.7 940.8L1329.7 946.6L1330.7 957.2L1331.7 963.0L1332.7 970.7L1333.7 974.1L1334.7 984.3L1335.7 984.9L1336.7 982.0L1337.7 976.2L1338.7 1002.3L1339.7 987.2L1340.7 993.9L1341.7 997.0L1342.7 989.9L1343.7 991.3L1344.7 999.1L1345.7 997.2L1346.7 994.8L1347.7 996.9L1348.7 1005.2L1349.7 1004.5L1350.7 1003.3L1351.7 1005.6L1352.7 1012.6L1353.7 1009.1L1354.7 1006.4L1355.7 1009.5L1356.7 1002.3L1357.7 1008.9L1358.7 1010.1L1359.7 1008.9L1360.7 1005.5L1361.7 1000.4L1362.7 1005.1L1363.7 1012.9L1364.7 1010.5L1365.7 1001.2L1366.7 1001.4L1367.7 1006.7L1368.7 1006.5L1369.7 1007.4L1370.7 1006.5L1371.7 1006.1L1372.7 1011.7L1373.7 1003.9L1374.7 1006.3L1375.7 1007.2L1376.7 1006.9L1377.7 1021.6L1378.7 1016.1L1379.7 1014.8L1380.7 1018.9L1381.7 1020.3L1382.7 1020.4L1383.7 1016.8L1384.7 1018.4L1385.7 1027.7L1386.7 1017.1L1387.7 1018.8L1388.7 1026.5L1389.7 1016.4L1390.7 1015.6L1391.7 1012.5L1392.7 1014.3L1393.7 1018.8L1394.7 1019.7L1395.7 1015.6L1396.7 1017.1L1397.7 1006.3L1398.7 1025.3L1399.7 1021.9L1400.7 1021.1L1401.7 1022.3L1402.7 1029.7L1403.7 1025.6L1404.7 1023.0L1405.7 1021.2L1406.7 1027.1L1407.7 1029.2L1408.7 1025.3L1409.7 1023.7L1410.7 1022.9L1411.7 1016.8L1412.7 1024.0L1413.7 1023.6L1414.7 1024.8L1415.7 1024.5L1416.7 1017.2L1417.7 1022.9L1418.7 1026.0L1419.7 1023.3L1420.7 1027.8L1421.7 1023.5L1422.7 1021.5L1423.7 1018.4L1424.7 1020.9L1425.7 1017.9L1426.7 1022.5L1427.7 1033.3L1428.7 1025.3L1429.7 1019.0L1430.7 1024.5L1431.7 1029.8L1432.7 1034.3L1433.7 1025.6L1434.7 1033.0L1435.7 1026.9L1436.7 1027.5L1437.7 1025.9L1438.7 1015.0L1439.7 1024.5L1440.7 1028.6L1441.7 1029.0L1442.7 1025.6L1443.7 1027.9L1444.7 1030.8L1445.7 1033.9L1446.7 1030.7L1447.7 1034.5L1448.7 1033.5L1449.7 1036.3L1450.7 1036.4L1451.7 1035.8L1452.7 1029.8L1453.7 1036.1L1454.7 1030.1L1455.7 1044.1L1456.7 1028.4L1457.7 1037.3L1458.7 1037.6L1459.7 1040.4L1460.7 1031.9L1461.7 1034.6L1462.7 1044.4L1463.7 1041.3L1464.7 1032.4L1465.7 1033.5L1466.7 1035.2L1467.7 1034.2L1468.7 1035.9L1469.7 1037.9L1470.7 1035.2L1471.7 1035.5L1472.7 1035.9L1473.7 1029.8L1474.7 1041.2L1475.7 1036.4L1476.7 1035.2L1477.7 1031.8L1478.7 1033.7L1479.7 1031.4L1480.7 1037.3L1481.7 1035.7L1482.7 1034.2L1483.7 1033.5L1484.7 1035.2L1485.7 1039.9L1486.7 1035.8L1487.7 1035.5L1488.7 1042.4L1489.7 1039.3L1490.7 1037.6L1491.7 1040.6L1492.7 1040.5L1493.7 1047.3L1494.7 1043.8L1495.7 1040.0L1496.7 1043.3L1497.7 1040.7L1498.7 1049.7L1499.7 1045.3L1500.7 1042.1L1501.7 1044.6L1502.7 1040.9L1503.7 1040.0L1504.7 1044.4L1505.7 1039.7L1506.7 1036.4L1507.7 1041.3L1508.7 1038.6L1509.7 1044.0L1510.7 1039.7L1511.7 1041.4L1512.7 1037.0L1513.7 1039.1L1514.7 1039.2L1515.7 1037.9L1516.7 1043.1L1517.7 1043.4L1518.7 1050.1L1519.7 1040.6L1520.7 1040.4L1521.7 1045.1L1522.7 1032.5L1523.7 1040.2L1524.7 1044.4L1525.7 1043.1L1526.7 1047.2L1527.7 1042.2L1528.7 1040.7L1529.7 1035.5L1530.7 1050.8L1531.7 1045.8L1532.7 1041.4L1533.7 1041.2L1534.7 1045.0L1535.7 1041.1L1536.7 1041.0L1537.7 1041.9L1538.7 1038.5L1539.7 1045.6L1540.7 1041.4L1541.7 1047.1L1542.7 1036.1L1543.7 1041.8L1544.7 1044.1L1545.7 1043.5L1546.7 1041.3L1547.7 1040.2L1548.7 1046.1L1549.7 1046.7L1550.7 1043.9L1551.7 1045.1L1552.7 1043.4L1553.7 1044.1L1554.7 1049.0L1555.7 1048.7L1556.7 1045.4L1557.7 1052.1L1558.7 1052.5L1559.7 1053.4L1560.7 1057.9L1561.7 1053.2L1562.7 1049.9L1563.7 1053.1L1564.7 1051.3L1565.7 1045.6L1566.7 1054.3L1567.7 1047.4L1568.7 1050.1L1569.7 1050.9L1570.7 1055.2L1571.7 1051.7L1572.7 1046.1L1573.7 1048.3L1574.7 1052.7L1575.7 1050.2L1576.7 1046.3L1577.7 1046.7L1578.7 1049.8L1579.7 1053.3L1580.7 1051.7L1581.7 1050.8L1582.7 1051.1L1583.7 1048.5L1584.7 1051.0L1585.7 1047.1L1586.7 1049.4L1587.7 1047.2L1588.7 1052.7L1589.7 1046.2L1590.7 1052.5L1591.7 1049.8L1592.7 1049.1L1593.7 1052.3L1594.7 1053.6L1595.7 1048.7L1596.7 1055.5L1597.7 1047.9L1598.7 1052.2L1599.7 1045.5L1600.7 1051.8L1601.7 1046.9L1602.7 1048.5L1603.7 1052.3L1604.7 1051.5L1605.7 1046.6L1606.7 1050.2L1607.7 1051.9L1608.7 1053.0L1609.7 1050.9L1610.7 1051.7L1611.7 1048.0L1612.7 1054.1L1613.7 1048.3L1614.7 1050.3L1615.7 1049.4L1616.7 1046.8L1617.7 1053.3L1618.7 1046.6L1619.7 1048.8L1620.7 1052.6L1621.7 1052.2L1622.7 1048.1L1623.7 1049.9L1624.7 1051.6L1625.7 1050.6L1626.7 1050.0L1627.7 1047.7L1628.7 1051.7L1629.7 1048.4L1630.7 1051.8L1631.7 1048.5L1632.7 1049.2L1633.7 1044.6L1634.7 1050.0L1635.7 1049.3L1636.7 1052.8L1637.7 1049.1L1638.7 1055.5L1639.7 1048.0L1640.7 1050.3L1641.7 1048.9L1642.7 1048.7L1643.7 1048.1L1644.7 1049.1L1645.7 1050.9L1646.7 1049.7L1647.7 1043.9L1648.7 1049.0L1649.7 1056.0L1650.7 1055.8L1651.7 1053.5L1652.7 1055.1L1653.7 1053.2L1654.7 1052.2L1655.7 1055.0L1656.7 1055.8L1657.7 1060.0L1658.7 1060.2L1659.7 1052.4L1660.7 1054.1L1661.7 1052.4L1662.7 1054.5L1663.7 1059.7L1664.7 1055.7L1665.7 1060.1L1666.7 1052.5L1667.7 1054.5L1668.7 1058.1L1669.7 1050.0L1670.7 1054.7L1671.7 1053.3L1672.7 1054.3L1673.7 1053.1L1674.7 1053.6L1675.7 1055.0L1676.7 1053.5L1677.7 1046.9L1678.7 1048.4L1679.7 1049.1L1680.7 1048.1L1681.7 1050.2L1682.7 1046.5L1683.7 1049.1L1684.7 1051.0L1685.7 1047.7L1686.7 1046.2L1687.7 1044.9L1688.7 1043.1L1689.7 1046.4L1690.7 1051.7L1691.7 1048.0L1692.7 1048.0L1693.7 1045.7L1694.7 1047.9L1695.7 1045.2L1696.7 1049.1L1697.7 1048.5L1698.7 1048.9L1699.7 1053.4L1700.7 1051.2L1701.7 1054.2L1702.7 1057.9L1703.7 1053.2L1704.7 1049.6L1705.7 1047.8"/>
<path stroke="#000000" d="M161.7 861.0L162.7 862.3L163.7 849.2L164.7 853.1L165.7 863.4L166.7 849.9L167.7 843.7L168.7 839.9L169.7 826.0L170.7 835.2L171.7 834.8L172.7 818.9L173.7 835.6L174.7 818.9L175.7 819.8L176.7 802.2L177.7 799.9L178.7 825.1L179.7 819.8L180.7 818.2L181.7 805.8L182.7 805.6L183.7 804.0L184.7 821.1L185.7 802.7L186.7 792.3L187.7 809.0L188.7 806.9L189.7 821.7L190.7 805.3L191.7 814.1L192.7 792.4L193.7 814.5L194.7 769.8L195.7 782.3L196.7 785.4L197.7 782.8L198.7 777.2L199.7 775.9L200.7 767.7L201.7 750.8L202.7 768.9L203.7 763.2L204.7 758.7L205.7 750.9L206.7 746.7L207.7 735.9L208.7 762.7L209.7 724.1L210.7 733.4L211.7 716.8L212.7 724.8L213.7 716.2L214.7 737.0L215.7 742.6L216.7 766.8L217.7 745.1L218.7 731.6L219.7 719.4L220.7 716.2L221.7 758.4L222.7 702.6L223.7 714.9L224.7 723.2L225.7 704.4L226.7 713.8L227.7 701.9L228.7 741.3L229.7 697.3L230.7 703.8L231.7 698.8L232.7 702.0L233.7 685.5L234.7 694.5L235.7 687.3L236.7 675.9L237.7 685.9L238.7 667.6L239.7 665.5L240.7 643.0L241.7 674.6L242.7 678.9L243.7 674.9L244.7 663.2L245.7 700.0L246.7 664.6L247.7 663.4L248.7 677.5L249.7 696.7L250.7 673.6L251.7 643.0L252.7 681.1L253.7 669.7L254.7 650.2L255.7 666.0L256.7 676.0L257.7 702.0L258.7 660.8L259.7 676.8L260.7 654.3L261.7 690.6L262.7 653.3L263.7 642.0L264.7 649.9L265.7 653.8L266.7 655.3L267.7 644.3L268.7 664.6L269.7 644.4L270.7 658.9L271.7 678.7L272.7 704.6L273.7 669.3L274.7 663.7L275.7 650.7L276.7 688.0L277.7 637.0L278.7 666.3L279.7 676.6L280.7 675.3L281.7 663.5L282.7 686.4L283.7 680.9L284.7 688.7L285.7 681.5L286.7 679.5L287.7 685.0L288.7 709.4L289.7 709.5L290.7 697.7L291.7 752.0L292.7 721.8L293.7 717.4L294.7 728.9L295.7 739.0L296.7 737.0L297.7 743.9L298.7 734.4L299.7 739.9L300.7 754.1L301.7 735.7L302.7 731.2L303.7 748.8L304.7 739.6L305.7 758.9L306.7 755.5L307.7 760.8L308.7 761.3L309.7 778.7L310.7 765.1L311.7 756.4L312.7 751.2L313.7 770.4L314.7 769.6L315.7 773.5L316.7 772.6L317.7 787.1L318.7 784.9L319.7 784.6L320.7 791.2L321.7 786.1L322.7 777.1L323.7 781.3L324.7 795.4L325.7 798.0L326.7 792.0L327.7 793.0L328.7 789.3L329.7 795.7L330.7 815.2L331.7 831.4L332.7 832.5L333.7 813.7L334.7 835.0L335.7 836.5L336.7 846.8L337.7 830.1L338.7 820.2L339.7 828.7L340.7 855.5L341.7 849.6L342.7 854.0L343.7 859.2L344.7 865.7L345.7 878.3L346.7 885.8L347.7 851.2L348.7 873.9L349.7 859.8L350.7 878.4L351.7 877.6L352.7 860.9L353.7 886.1L354.7 900.7L355.7 893.0L356.7 886.2L357.7 898.6L358.7 908.0L359.7 897.2L360.7 917.1L361.7 901.6L362.7 900.7L363.7 904.4L364.7 916.5L365.7 918.8L366.7 913.9L367.7 918.7L368.7 929.1L369.7 916.5L370.7 921.8L371.7 938.6L372.7 938.7L373.7 936.7L374.7 928.1L375.7 929.4L376.7 946.8L377.7 935.3L378.7 952.4L379.7 936.5L380.7 942.4L381.7 944.2L382.7 937.9L383.7 946.3L384.7 947.5L385.7 957.7L386.7 959.9L387.7 960.3L388.7 981.2L389.7 966.4L390.7 966.5L391.7 986.9L392.7 982.4L393.7 978.4L394.7 973.2L395.7 984.1L396.7 982.6L397.7 986.9L398.7 980.5L399.7 976.5L400.7 987.9L401.7 998.0L402.7 999.0L403.7 999.7L404.7 987.5L405.7 991.2L406.7 1011.1L407.7 1003.5L408.7 1007.2L409.7 1002.2L410.7 1012.7L411.7 1017.3L412.7 1017.5L413.7 1028.9L414.7 1021.7L415.7 1012.5L416.7 1013.3L417.7 1036.6L418.7 1026.7L419.7 1048.5L420.7 1038.2L421.7 1032.1L422.7 1041.4L423.7 1053.4L424.7 1049.2L425.7 1031.9L426.7 1043.3L427.7 1070.8L428.7 1044.6L429.7 1054.9L430.7 1058.2L431.7 1053.8L432.7 1071.1L433.7 1063.9L434.7 1063.6L435.7 1072.1L436.7 1068.9L437.7 1069.1L438.7 1067.7L439.7 1062.7L440.7 1083.4L441.7 1075.1L442.7 1079.9L443.7 1079.7L444.7 1083.0L445.7 1099.5L446.7 1089.3L447.7 1078.9L448.7 1076.4L449.7 1082.5L450.7 1103.7L451.7 1104.6L452.7 1098.7L453.7 1105.3L454.7 1108.3L455.7 1106.7L456.7 1091.6L457.7 1114.3L458.7 1110.4L459.7 1109.8L460.7 1116.8L461.7 1121.9L462.7 1121.4L463.7 1107.4L464.7 1129.7L465.7 1121.1L466.7 1130.9L467.7 1113.3L468.7 1118.1L469.7 1105.5L470.7 1116.7L471.7 1114.5L472.7 1121.0L473.7 1131.2L474.7 1117.4L475.7 1120.0L476.7 1135.1L477.7 1124.8L478.7 1126.1L479.7 1126.1L480.7 1138.4L481.7 1137.3L482.7 1131.5L483.7 1128.3L484.7 1151.0L485.7 1144.1L486.7 1136.2L487.7 1136.8L488.7 1153.8L489.7 1153.2L490.7 1129.2L491.7 1153.3L492.7 1148.1L493.7 1151.6L494.7 1151.2L495.7 1158.5L496.7 1141.3L497.7 1150.2L498.7 1146.1L499.7 1140.2L500.7 1162.8L501.7 1156.7L502.7 1157.3L503.7 1160.1L504.7 1158.8L505.7 1163.1L506.7 1160.0L507.7 1154.8L508.7 1159.3L509.7 1164.5L510.7 1156.4L511.7 1174.6L512.7 1154.4L513.7 1168.7L514.7 1166.2L515.7 1172.7L516.7 1162.6L517.7 1174.6L518.7 1167.9L519.7 1181.5L520.7 1181.1L521.7 1176.9L522.7 1183.0L523.7 1181.8L524.7 1179.6L525.7 1168.1L526.7 1174.1L527.7 1174.1L528.7 1174.8L529.7 1174.2L530.7 1182.7L531.7 1184.3L532.7 1189.1L533.7 1185.6L534.7 1177.0L535.7 1165.4L536.7 1184.7L537.7 1167.9L538.7 1178.9L539.7 1182.2L540.7 1176.5L541.7 1187.5L542.7 1186.2L543.7 1181.0L544.7 1181.9L545.7 1179.5L546.7 1187.5L547.7 1185.9L548.7 1190.2L549.7 1191.6L550.7 1191.3L551.7 1204.9L552.7 1189.7L553.7 1195.6L554.7 1197.9L555.7 1189.6L556.7 1194.1L557.7 1185.1L558.7 1199.7L559.7 1184.3L560.7 1208.5L561.7 1210.8L562.7 1201.9L563.7 1196.5L564.7 1206.9L565.7 1200.6L566.7 1214.8L567.7 1206.2L568.7 1198.8L569.7 1195.8L570.7 1191.3L571.7 1199.3L572.7 1194.3L573.7 1210.8L574.7 1211.8L575.7 1208.5L576.7 1199.5L577.7 1213.0L578.7 1206.4L579.7 1198.1L580.7 1207.5L581.7 1202.0L582.7 1204.0L583.7 1211.3L584.7 1216.2L585.7 1205.8L586.7 1213.4L587.7 1199.2L588.7 1216.3L589.7 1208.2L590.7 1213.5L591.7 1203.6L592.7 1213.1L593.7 1214.1L594.7 1207.1L595.7 1214.0L596.7 1222.7L597.7 1216.6L598.7 1216.2L599.7 1212.1L600.7 1225.4L601.7 1230.7L602.7 1216.0L603.7 1219.3L604.7 1222.6L605.7 1223.4L606.7 1222.2L607.7 1212.8L608.7 1219.6L609.7 1221.5L610.7 1221.3L611.7 1225.6L612.7 1224.2L613.7 1221.6L614.7 1223.1L615.7 1230.3L616.7 1232.5L617.7 1221.7L618.7 1215.6L619.7 1224.2L620.7 1224.1L621.7 1228.4L622.7 1229.6L623.7 1227.3L624.7 1227.7L625.7 1225.4L626.7 1230.9L627.7 1226.9L628.7 1226.0L629.7 1224.5L630.7 1226.3L631.7 1233.1L632.7 1231.3L633.7 1216.6L634.7 1223.7L635.7 1221.5L636.7 1224.3L637.7 1219.2L638.7 1230.3L639.7 1225.1L640.7 1221.4L641.7 1221.9L642.7 1234.0L643.7 1232.1L644.7 1228.5L645.7 1227.8L646.7 1228.7L647.7 1221.8L648.7 1232.2L649.7 1223.7L650.7 1225.6L651.7 1222.0L652.7 1229.6L653.7 1226.0L654.7 1221.1L655.7 1227.4L656.7 1225.4L657.7 1232.1L658.7 1235.5L659.7 1229.7L660.7 1227.1L661.7 1233.6L662.7 1234.1L663.7 1227.5L664.7 1241.5L665.7 1241.5L666.7 1226.1L667.7 1230.6L668.7 1235.2L669.7 1224.9L670.7 1236.5L671.7 1231.0L672.7 1237.5L673.7 1227.2L674.7 1224.9L675.7 1232.9L676.7 1236.2L677.7 1235.3L678.7 1242.2L679.7 1231.0L680.7 1223.2L681.7 1225.1L682.7 1233.7L683.7 1227.5L684.7 1234.6L685.7 1234.1L686.7 1238.8L687.7 1220.8L688.7 1231.7L689.7 1232.8L690.7 1237.1L691.7 1229.9L692.7 1234.5L693.7 1232.2L694.7 1229.9L695.7 1227.2L696.7 1238.9L697.7 1229.5L698.7 1229.3L699.7 1233.0L700.7 1228.4L701.7 1231.9L702.7 1229.9L703.7 1226.9L704.7 1229.9L705.7 1233.6L706.7 1222.3L707.7 1227.0L708.7 1233.9L709.7 1225.8L710.7 1227.6L711.7 1225.7L712.7 1233.4L713.7 1222.8L714.7 1225.3L715.7 1227.5L716.7 1220.4L717.7 1231.2L718.7 1227.3L719.7 1234.6L720.7 1227.6L721.7 1230.2L722.7 1226.2L723.7 1227.3L724.7 1224.0L725.7 1231.4L726.7 1242.7L727.7 1232.1L728.7 1234.9L729.7 1228.4L730.7 1231.9L731.7 1232.5L732.7 1238.6L733.7 1229.6L734.7 1233.4L735.7 1237.1L736.7 1223.7L737.7 1237.9L738.7 1228.7L739.7 1236.8L740.7 1232.6L741.7 1236.0L742.7 1239.4L743.7 1231.5L744.7 1232.4L745.7 1228.2L746.7 1234.4L747.7 1228.1L748.7 1234.2L749.7 1240.1L750.7 1238.2L751.7 1241.2L752.7 1228.8L753.7 1238.2L754.7 1244.0L755.7 1232.9L756.7 1236.9L757.7 1238.4L758.7 1229.4L759.7 1239.5L760.7 1232.9L761.7 1240.0L762.7 1232.7L763.7 1230.7L764.7 1231.9L765.7 1239.8L766.7 1238.9L767.7 1231.0L768.7 1232.4L769.7 1231.8L770.7 1229.4L771.7 1234.9L772.7 1233.6L773.7 1228.7L774.7 1226.2L775.7 1227.0L776.7 1224.9L777.7 1226.0L778.7 1228.4L779.7 1237.8L780.7 1233.0L781.7 1235.6L782.7 1224.3L783.7 1220.1L784.7 1233.6L785.7 1225.1L786.7 1222.6L787.7 1221.4L788.7 1217.3L789.7 1235.9L790.7 1227.9L791.7 1229.9L792.7 1235.0L793.7 1224.2L794.7 1224.2L795.7 1231.0L796.7 1231.0L797.7 1225.6L798.7 1230.7L799.7 1232.1L800.7 1222.4L801.7 1235.3L802.7 1232.7L803.7 1225.6L804.7 1225.5L805.7 1227.0L806.7 1225.4L807.7 1235.9L808.7 1240.4L809.7 1224.2L810.7 1240.6L811.7 1223.7L812.7 1235.4L813.7 1228.7L814.7 1233.1L815.7 1228.5L816.7 1233.1L817.7 1228.2L818.7 1236.0L819.7 1239.3L820.7 1231.8L821.7 1224.5L822.7 1230.5L823.7 1233.5L824.7 1229.2L825.7 1231.9L826.7 1228.3L827.7 1228.7L828.7 1241.4L829.7 1227.2L830.7 1230.5L831.7 1227.3L832.7 1230.4L833.7 1233.4L834.7 1220.8L835.7 1238.0L836.7 1231.2L837.7 1237.0L838.7 1232.0L839.7 1228.2L840.7 1232.6L841.7 1219.4L842.7 1234.1L843.7 1221.2L844.7 1231.5L845.7 1232.2L846.7 1235.9L847.7 1219.4L848.7 1224.0L849.7 1229.9L850.7 1226.9L851.7 1218.7L852.7 1224.0L853.7 1214.8L854.7 1221.9L855.7 1221.1L856.7 1222.1L857.7 1212.1L858.7 1222.7L859.7 1227.8L860.7 1205.2L861.7 1219.7L862.7 1218.4L863.7 1220.8L864.7 1211.1L865.7 1222.8L866.7 1216.3L867.7 1213.1L868.7 1209.2L869.7 1215.5L870.7 1220.0L871.7 1220.6L872.7 1219.2L873.7 1208.8L874.7 1214.4L875.7 1209.9L876.7 1208.6L877.7 1222.3L878.7 1209.8L879.7 1221.4L880.7 1222.5L881.7 1205.0L882.7 1207.5L883.7 1218.2L884.7 1209.9L885.7 1214.7L886.7 1206.6L887.7 1221.1L888.7 1208.1L889.7 1213.3L890.7 1207.7L891.7 1207.7L892.7 1210.5L893.7 1209.9L894.7 1202.5L895.7 1198.0L896.7 1202.0L897.7 1200.0L898.7 1212.0L899.7 1203.5L900.7 1201.8L901.7 1212.4L902.7 1217.0L903.7 1204.0L904.7 1217.7L905.7 1205.4L906.7 1221.5L907.7 1207.4L908.7 1218.3L909.7 1208.4L910.7 1215.8L911.7 1212.9L912.7 1223.4L913.7 1214.9L914.7 1216.5L915.7 1207.4L916.7 1210.9L917.7 1203.4L918.7 1212.9L919.7 1209.4L920.7 1211.7L921.7 1205.7L922.7 1210.6L923.7 1205.8L924.7 1220.4L925.7 1202.2L926.7 1207.4L927.7 1212.3L928.7 1219.0L929.7 1209.4L930.7 1212.8L931.7 1194.0L932.7 1200.7L933.7 1204.5L934.7 1202.0L935.7 1201.9L936.7 1195.3L937.7 1208.8L938.7 1200.1L939.7 1209.6L940.7 1204.7L941.7 1200.8L942.7 1189.0L943.7 1195.9L944.7 1200.0L945.7 1196.9L946.7 1205.3L947.7 1194.8L948.7 1213.3L949.7 1201.2L950.7 1201.6L951.7 1201.4L952.7 1198.8L953.7 1196.8L954.7 1205.9L955.7 1203.7L956.7 1204.2L957.7 1201.5L958.7 1215.1L959.7 1202.4L960.7 1205.1L961.7 1207.9L962.7 1209.5L963.7 1202.5L964.7 1209.4L965.7 1208.5L966.7 1214.7L967.7 1209.5L968.7 1204.4L969.7 1201.4L970.7 1212.4L971.7 1202.3L972.7 1191.7L973.7 1207.2L974.7 1204.1L975.7 1196.8L976.7 1201.0L977.7 1210.2L978.7 1195.4L979.7 1205.0L980.7 1194.6L981.7 1201.0L982.7 1200.3L983.7 1200.2L984.7 1198.7L985.7 1202.1L986.7 1190.9L987.7 1187.6L988.7 1195.9L989.7 1189.6L990.7 1181.7L991.7 1194.1L992.7 1191.7L993.7 1195.2L994.7 1184.0L995.7 1187.7L996.7 1186.6L997.7 1190.4L998.7 1187.1L999.7 1194.1L1000.7 1179.6L1001.7 1203.5L1002.7 1191.8L1003.7 1185.7L1004.7 1181.0L1005.7 1187.7L1006.7 1191.6L1007.7 1196.6L1008.7 1193.8L1009.7 1188.7L1010.7 1204.3L1011.7 1192.5L1012.7 1198.5L1013.7 1190.9L1014.7 1187.0L1015.7 1187.6L1016.7 1199.6L1017.7 1184.7L1018.7 1188.4L1019.7 1185.1L1020.7 1188.3L1021.7 1196.1L1022.7 1173.6L1023.7 1187.7L1024.7 1179.5L1025.7 1181.4L1026.7 1187.5L1027.7 1189.6L1028.7 1188.0L1029.7 1182.2L1030.7 1179.7L1031.7 1187.0L1032.7 1172.5L1033.7 1178.3L1034.7 1172.3L1035.7 1178.7L1036.7 1170.8L1037.7 1169.6L1038.7 1166.6L1039.7 1174.4L1040.7 1163.2L1041.7 1174.5L1042.7 1168.3L1043.7 1179.1L1044.7 1179.0L1045.7 1184.9L1046.7 1174.9L1047.7 1184.5L1048.7 1171.4L1049.7 1172.9L1050.7 1180.7L1051.7 1179.2L1052.7 1174.7L1053.7 1175.3L1054.7 1174.8L1055.7 1171.5L1056.7 1176.3L1057.7 1172.5L1058.7 1197.7L1059.7 1180.0L1060.7 1184.9L1061.7 1184.4L1062.7 1192.3L1063.7 1195.0L1064.7 1187.7L1065.7 1184.3L1066.7 1195.5L1067.7 1192.3L1068.7 1198.0L1069.7 1190.7L1070.7 1198.5L1071.7 1191.6L1072.7 1189.7L1073.7 1182.7L1074.7 1182.1L1075.7 1185.1L1076.7 1186.5L1077.7 1189.5L1078.7 1187.1L1079.7 1194.7L1080.7 1180.8L1081.7 1194.7L1082.7 1190.1L1083.7 1187.7L1084.7 1189.4L1085.7 1177.7L1086.7 1186.7L1087.7 1180.2L1088.7 1186.5L1089.7 1186.6L1090.7 1190.8L1091.7 1183.9L1092.7 1183.4L1093.7 1186.5L1094.7 1181.9L1095.7 1195.4L1096.7 1196.6L1097.7 1188.3L1098.7 1173.1L1099.7 1182.3L1100.7 1186.6L1101.7 1181.4L1102.7 1181.5L1103.7 1192.2L1104.7 1182.6L1105.7 1195.3L1106.7 1197.6L1107.7 1188.4L1108.7 1193.8L1109.7 1188.2L1110.7 1185.2L1111.7 1189.0L1112.7 1173.9L1113.7 1180.8L1114.7 1176.6L1115.7 1185.8L1116.7 1175.9L1117.7 1181.3L1118.7 1197.9L1119.7 1199.1L1120.7 1181.0L1121.7 1186.4L1122.7 1190.8L1123.7 1188.3L1124.7 1184.8L1125.7 1187.3L1126.7 1186.5L1127.7 1190.2L1128.7 1195.8L1129.7 1194.5L1130.7 1184.4L1131.7 1185.7L1132.7 1176.3L1133.7 1178.7L1134.7 1180.5L1135.7 1185.9L1136.7 1172.2L1137.7 1168.4L1138.7 1171.2L1139.7 1180.4L1140.7 1174.8L1141.7 1175.7L1142.7 1180.0L1143.7 1182.5L1144.7 1179.5L1145.7 1178.9L1146.7 1182.4L1147.7 1171.8L1148.7 1184.0L1149.7 1172.4L1150.7 1181.7L1151.7 1184.6L1152.7 1173.7L1153.7 1178.2L1154.7 1179.7L1155.7 1177.0L1156.7 1174.7L1157.7 1178.9L1158.7 1177.8L1159.7 1183.5L1160.7 1167.6L1161.7 1184.5L1162.7 1175.8L1163.7 1177.3L1164.7 1173.4L1165.7 1191.8L1166.7 1174.6L1167.7 1181.0L1168.7 1195.1L1169.7 1180.4L1170.7 1174.9L1171.7 1181.5L1172.7 1176.6L1173.7 1177.2L1174.7 1165.3L1175.7 1182.3L1176.7 1168.8L1177.7 1168.4L1178.7 1161.3L1179.7 1160.9L1180.7 1155.0L1181.7 1157.5L1182.7 1149.6L1183.7 1143.3L1184.7 1139.3L1185.7 1130.2L1186.7 1131.6L1187.7 1128.9L1188.7 1128.3L1189.7 1132.9L1190.7 1140.1L1191.7 1140.3L1192.7 1146.2L1193.7 1149.5L1194.7 1148.9L1195.7 1143.2L1196.7 1151.5L1197.7 1161.8L1198.7 1148.0L1199.7 1166.8L1200.7 1164.9L1201.7 1171.4L1202.7 1161.4L1203.7 1171.8L1204.7 1173.9L1205.7 1170.0L1206.7 1168.1L1207.7 1181.5L1208.7 1189.3L1209.7 1167.2L1210.7 1178.1L1211.7 1161.8L1212.7 1168.7L1213.7 1172.4L1214.7 1165.7L1215.7 1175.9L1216.7 1181.6L1217.7 1186.1L1218.7 1173.8L1219.7 1172.6L1220.7 1160.4L1221.7 1175.0L1222.7 1190.0L1223.7 1180.3L1224.7 1183.6L1225.7 1174.1L1226.7 1181.0L1227.7 1182.1L1228.7 1190.8L1229.7 1178.8L1230.7 1196.1L1231.7 1195.4L1232.7 1203.5L1233.7 1190.5L1234.7 1195.1L1235.7 1193.5L1236.7 1189.1L1237.7 1198.8L1238.7 1186.9L1239.7 1189.7L1240.7 1194.2L1241.7 1189.4L1242.7 1191.5L1243.7 1189.1L1244.7 1206.2L1245.7 1202.7L1246.7 1195.6L1247.7 1211.7L1248.7 1195.1L1249.7 1197.8L1250.7 1194.3L1251.7 1198.9L1252.7 1204.9L1253.7 1199.3L1254.7 1191.4L1255.7 1210.4L1256.7 1192.2L1257.7 1205.9L1258.7 1209.3L1259.7 1205.8L1260.7 1202.1L1261.7 1199.7L1262.7 1197.5L1263.7 1189.8L1264.7 1194.5L1265.7 1198.1L1266.7 1209.7L1267.7 1189.6L1268.7 1210.4L1269.7 1196.2L1270.7 1205.2L1271.7 1194.9L1272.7 1202.8L1273.7 1202.7L1274.7 1195.1L1275.7 1202.5L1276.7 1203.4L1277.7 1190.2L1278.7 1199.2L1279.7 1208.5L1280.7 1198.4L1281.7 1193.5L1282.7 1212.2L1283.7 1196.9L1284.7 1193.6L1285.7 1206.2L1286.7 1192.8L1287.7 1190.3L1288.7 1195.2L1289.7 1200.9L1290.7 1194.4L1291.7 1193.7L1292.7 1195.3L1293.7 1195.4L1294.7 1191.8L1295.7 1199.0L1296.7 1195.3L1297.7 1197.4L1298.7 1201.5L1299.7 1197.2L1300.7 1195.7L1301.7 1189.2L1302.7 1200.2L1303.7 1206.2L1304.7 1201.5L1305.7 1196.6L1306.7 1194.8L1307.7 1181.6L1308.7 1177.4L1309.7 1194.4L1310.7 1198.7L1311.7 1187.3L1312.7 1188.8L1313.7 1183.3L1314.7 1197.0L1315.7 1182.1L1316.7 1174.1L1317.7 1186.7L1318.7 1193.7L1319.7 1176.5L1320.7 1172.3L1321.7 1174.6L1322.7 1166.6L1323.7 1167.1L1324.7 1166.9L1325.7 1168.4L1326.7 1172.3L1327.7 1166.2L1328.7 1174.9L1329.7 1174.8L1330.7 1172.6L1331.7 1176.3L1332.7 1194.1L1333.7 1173.4L1334.7 1194.6L1335.7 1192.6L1336.7 1182.5L1337.7 1184.6L1338.7 1195.2L1339.7 1194.3L1340.7 1199.8L1341.7 1195.5L1342.7 1211.2L1343.7 1206.1L1344.7 1207.9L1345.7 1202.8L1346.7 1206.1L1347.7 1208.0L1348.7 1218.8L1349.7 1208.1L1350.7 1214.3L1351.7 1213.2L1352.7 1215.0L1353.7 1204.3L1354.7 1211.2L1355.7 1200.6L1356.7 1204.9L1357.7 1207.2L1358.7 1216.7L1359.7 1220.1L1360.7 1205.2L1361.7 1218.8L1362.7 1212.5L1363.7 1205.7L1364.7 1215.7L1365.7 1219.0L1366.7 1207.1L1367.7 1209.3L1368.7 1214.2L1369.7 1211.9L1370.7 1219.5L1371.7 1221.3L1372.7 1212.1L1373.7 1215.6L1374.7 1224.5L1375.7 1217.3L1376.7 1216.1L1377.7 1218.8L1378.7 1218.4L1379.7 1216.9L1380.7 1224.1L1381.7 1222.3L1382.7 1221.2L1383.7 1218.0L1384.7 1206.0L1385.7 1217.4L1386.7 1209.3L1387.7 1223.5L1388.7 1217.7L1389.7 1215.8L1390.7 1217.8L1391.7 1234.6L1392.7 1223.0L1393.7 1223.3L1394.7 1222.0L1395.7 1218.5L1396.7 1208.4L1397.7 1226.9L1398.7 1214.2L1399.7 1218.8L1400.7 1220.4L1401.7 1218.2L1402.7 1225.7L1403.7 1222.4L1404.7 1215.7L1405.7 1221.9L1406.7 1223.7L1407.7 1227.2L1408.7 1224.0L1409.7 1226.5L1410.7 1221.9L1411.7 1215.1L1412.7 1228.6L1413.7 1224.3L1414.7 1219.5L1415.7 1234.9L1416.7 1223.7L1417.7 1215.7L1418.7 1220.9L1419.7 1225.0L1420.7 1233.4L1421.7 1220.3L1422.7 1226.7L1423.7 1219.9L1424.7 1220.3L1425.7 1222.8L1426.7 1228.6L1427.7 1230.4L1428.7 1233.9L1429.7 1223.7L1430.7 1229.9L1431.7 1239.9L1432.7 1227.3L1433.7 1230.0L1434.7 1227.5L1435.7 1233.3L1436.7 1227.1L1437.7 1239.6L1438.7 1219.7L1439.7 1226.2L1440.7 1228.5L1441.7 1222.2L1442.7 1234.5L1443.7 1237.2L1444.7 1229.6L1445.7 1236.0L1446.7 1223.6L1447.7 1237.6L1448.7 1233.7L1449.7 1232.3L1450.7 1231.7L1451.7 1236.6L1452.7 1235.1L1453.7 1231.9L1454.7 1222.3L1455.7 1230.7L1456.7 1223.7L1457.7 1228.8L1458.7 1221.7L1459.7 1226.8L1460.7 1222.5L1461.7 1221.2L1462.7 1224.4L1463.7 1224.6L1464.7 1223.1L1465.7 1222.1L1466.7 1216.8L1467.7 1230.4L1468.7 1217.2L1469.7 1225.9L1470.7 1230.8L1471.7 1225.9L1472.7 1233.1L1473.7 1237.7L1474.7 1223.9L1475.7 1227.8L1476.7 1221.6L1477.7 1229.8L1478.7 1223.5L1479.7 1238.0L1480.7 1234.7L1481.7 1237.3L1482.7 1237.2L1483.7 1231.3L1484.7 1242.9L1485.7 1242.5L1486.7 1232.2L1487.7 1239.9L1488.7 1231.3L1489.7 1231.2L1490.7 1236.5L1491.7 1232.8L1492.7 1232.5L1493.7 1233.5L1494.7 1228.9L1495.7 1235.2L1496.7 1230.2L1497.7 1233.1L1498.7 1236.4L1499.7 1233.9L1500.7 1229.9L1501.7 1229.4L1502.7 1230.2L1503.7 1243.5L1504.7 1236.1L1505.7 1235.2L1506.7 1231.9L1507.7 1238.7L1508.7 1228.8L1509.7 1228.2L1510.7 1239.1L1511.7 1227.5L1512.7 1236.9L1513.7 1227.1L1514.7 1231.3L1515.7 1230.2L1516.7 1233.3L1517.7 1235.7L1518.7 1236.6L1519.7 1231.0L1520.7 1232.6L1521.7 1235.6L1522.7 1239.6L1523.7 1235.8L1524.7 1236.5L1525.7 1237.7L1526.7 1240.3L1527.7 1242.8L1528.7 1235.8L1529.7 1232.4L1530.7 1239.8L1531.7 1239.0L1532.7 1240.4L1533.7 1238.6L1534.7 1245.3L1535.7 1242.0L1536.7 1240.3L1537.7 1232.2L1538.7 1237.7L1539.7 1238.4L1540.7 1236.1L1541.7 1245.1L1542.7 1244.1L1543.7 1240.7L1544.7 1239.7L1545.7 1245.7L1546.7 1244.7L1547.7 1250.7L1548.7 1241.1L1549.7 1246.3L1550.7 1250.1L1551.7 1252.3L1552.7 1248.6L1553.7 1244.5L1554.7 1245.4L1555.7 1239.5L1556.7 1247.6L1557.7 1245.1L1558.7 1237.4L1559.7 1234.1L1560.7 1239.1L1561.7 1248.2L1562.7 1242.4L1563.7 1246.5L1564.7 1235.2L1565.7 1243.8L1566.7 1252.2L1567.7 1239.5L1568.7 1235.1L1569.7 1246.3L1570.7 1238.9L1571.7 1243.5L1572.7 1244.0L1573.7 1238.8L1574.7 1243.8L1575.7 1242.5L1576.7 1250.1L1577.7 1248.4L1578.7 1254.2L1579.7 1242.3L1580.7 1244.8L1581.7 1249.3L1582.7 1247.7L1583.7 1250.5L1584.7 1252.0L1585.7 1253.5L1586.7 1253.6L1587.7 1253.0L1588.7 1242.1L1589.7 1247.6L1590.7 1248.9L1591.7 1241.4L1592.7 1245.9L1593.7 1251.6L1594.7 1236.2L1595.7 1250.2L1596.7 1242.0L1597.7 1240.1L1598.7 1246.3L1599.7 1240.0L1600.7 1244.0L1601.7 1243.2L1602.7 1243.0L1603.7 1246.0L1604.7 1245.0L1605.7 1243.0L1606.7 1244.8L1607.7 1244.7L1608.7 1244.0L1609.7 1247.6L1610.7 1245.9L1611.7 1245.1L1612.7 1244.4L1613.7 1243.3L1614.7 1244.1L1615.7 1242.5L1616.7 1246.7L1617.7 1247.7L1618.7 1249.1L1619.7 1249.5L1620.7 1250.3L1621.7 1250.5L1622.7 1244.8L1623.7 1246.7L1624.7 1252.8L1625.7 1247.6L1626.7 1252.7L1627.7 1247.3L1628.7 1249.7L1629.7 1252.4L1630.7 1249.7L1631.7 1248.0L1632.7 1253.8L1633.7 1247.6L1634.7 1249.0L1635.7 1252.1L1636.7 1250.6L1637.7 1249.1L1638.7 1256.0L1639.7 1251.4L1640.7 1250.5L1641.7 1256.1L1642.7 1252.1L1643.7 1256.4L1644.7 1255.5L1645.7 1248.5L1646.7 1247.3L1647.7 1248.2L1648.7 1246.7L1649.7 1246.3L1650.7 1241.4L1651.7 1247.8L1652.7 1246.9L1653.7 1251.2L1654.7 1240.3L1655.7 1251.4L1656.7 1242.0L1657.7 1250.6L1658.7 1243.4L1659.7 1245.2L1660.7 1247.0L1661.7 1241.0L1662.7 1235.3L1663.7 1237.2L1664.7 1245.8L1665.7 1250.4L1666.7 1247.3L1667.7 1246.7L1668.7 1250.4L1669.7 1249.3L1670.7 1247.3L1671.7 1252.2L1672.7 1261.1L1673.7 1256.4L1674.7 1251.6L1675.7 1245.8L1676.7 1245.2L1677.7 1247.9L1678.7 1253.6L1679.7 1257.7L1680.7 1257.1L1681.7 1259.5L1682.7 1250.7L1683.7 1250.3L1684.7 1252.6L1685.7 1245.7L1686.7 1255.2L1687.7 1248.1L1688.7 1250.3L1689.7 1250.8L1690.7 1257.1L1691.7 1252.6L1692.7 1249.7L1693.7 1251.0L1694.7 1245.2L1695.7 1238.6L1696.7 1252.6L1697.7 1258.6L1698.7 1251.3L1699.7 1250.7L1700.7 1239.6L1701.7 1252.4L1702.7 1251.0L1703.7 1248.1L1704.7 1248.6L1705.7 1250.7"/>
</g>
<g stroke="#000" stroke-width="3.8" fill="none" stroke-linecap="butt">
<line x1="161.7" y1="27" x2="161.7" y2="1296.7"/>
<line x1="159.79999999999998" y1="29.0" x2="1710.4" y2="29.0"/>
<line x1="1706.6" y1="27" x2="1706.6" y2="1271.6"/>
<line x1="161.7" y1="1271.6" x2="1710" y2="1271.6"/>
<line x1="161.7" y1="1271.6" x2="161.7" y2="1296.7"/><line x1="504.6" y1="1271.6" x2="504.6" y2="1296.7"/><line x1="847.6" y1="1271.6" x2="847.6" y2="1296.7"/><line x1="1190.9" y1="1271.6" x2="1190.9" y2="1296.7"/><line x1="1533.8" y1="1271.6" x2="1533.8" y2="1296.7"/><line x1="333.6" y1="1271.6" x2="333.6" y2="1283"/><line x1="677.0" y1="1271.6" x2="677.0" y2="1283"/><line x1="1019.8" y1="1271.6" x2="1019.8" y2="1283"/><line x1="1362.9" y1="1271.6" x2="1362.9" y2="1283"/><line x1="1706.3" y1="1271.6" x2="1706.3" y2="1283"/><line x1="138.6" y1="160.6" x2="161.7" y2="160.6"/><line x1="138.6" y1="343.2" x2="161.7" y2="343.2"/><line x1="138.6" y1="521.9" x2="161.7" y2="521.9"/><line x1="138.6" y1="703.7" x2="161.7" y2="703.7"/><line x1="138.6" y1="883.8" x2="161.7" y2="883.8"/><line x1="138.6" y1="1064.0" x2="161.7" y2="1064.0"/><line x1="138.6" y1="1244.6" x2="161.7" y2="1244.6"/><line x1="150.5" y1="72.6" x2="161.7" y2="72.6"/><line x1="150.5" y1="251.2" x2="161.7" y2="251.2"/><line x1="150.5" y1="433.5" x2="161.7" y2="433.5"/><line x1="150.5" y1="613.6" x2="161.7" y2="613.6"/><line x1="150.5" y1="793.8" x2="161.7" y2="793.8"/><line x1="150.5" y1="974.0" x2="161.7" y2="974.0"/><line x1="150.5" y1="1154.5" x2="161.7" y2="1154.5"/>
</g>
<g stroke="#000" fill="none">
<rect x="1222.00" y="329.90" width="3.5" height="43.10" fill="#000" stroke="none"/><path d="M1233.00 372.00L1233.00 383.05L1231.25 383.05L1231.25 390.20L1229.30 390.20L1229.30 397.02L1227.30 397.02L1227.30 404.50L1222.00 404.50L1222.00 397.02L1220.00 397.02L1220.00 390.20L1218.05 390.20L1218.05 383.05L1216.30 383.05L1216.30 372.00Z" fill="#000" stroke="none"/><rect x="1031.9" y="452.7" width="298.8" height="2.4" fill="#000" stroke="none"/><rect x="1030.15" y="450.90" width="3.5" height="26.00" fill="#000" stroke="none"/><path d="M1041.15 475.90L1041.15 486.78L1039.40 486.78L1039.40 493.82L1037.45 493.82L1037.45 500.54L1035.45 500.54L1035.45 507.90L1030.15 507.90L1030.15 500.54L1028.15 500.54L1028.15 493.82L1026.20 493.82L1026.20 486.78L1024.45 486.78L1024.45 475.90Z" fill="#000" stroke="none"/><rect x="1181.55" y="452.70" width="3.5" height="43.60" fill="#000" stroke="none"/><path d="M1192.55 495.30L1192.55 506.79L1190.80 506.79L1190.80 514.23L1188.85 514.23L1188.85 521.33L1186.85 521.33L1186.85 529.10L1181.55 529.10L1181.55 521.33L1179.55 521.33L1179.55 514.23L1177.60 514.23L1177.60 506.79L1175.85 506.79L1175.85 495.30Z" fill="#000" stroke="none"/><rect x="1323.40" y="449.10" width="3.5" height="35.20" fill="#000" stroke="none"/><path d="M1334.40 483.30L1334.40 494.93L1332.65 494.93L1332.65 502.45L1330.70 502.45L1330.70 509.63L1328.70 509.63L1328.70 517.50L1323.40 517.50L1323.40 509.63L1321.40 509.63L1321.40 502.45L1319.45 502.45L1319.45 494.93L1317.70 494.93L1317.70 483.30Z" fill="#000" stroke="none"/>
</g>
<g class="t" font-size="72" text-anchor="middle">
<text x="161.7" y="1366.5">10</text>
<text x="505.0" y="1366.5">20</text>
<text x="848.3" y="1366.5">30</text>
<text x="1191.6" y="1366.5">40</text>
<text x="1534.9" y="1366.5">50</text>
</g>
<text class="t" font-size="100" transform="translate(805.76 1490.00) scale(0.7478 0.7414)">2</text>
<text class="g" font-size="100" transform="translate(847.54 1488.59) scale(0.6711 0.6061)">θ</text>
<text class="t" font-size="100" transform="translate(902.81 1488.86) scale(0.7149 0.6926)">(deg.)</text>
<text class="g" font-size="100" transform="translate(1249.74 391.70) scale(0.6722 0.5491)">α</text>
<text class="t" font-size="100" transform="translate(1289.05 392.90) scale(0.6870 0.6942)">-W</text>
<text class="g" font-size="100" transform="translate(1368.73 505.94) scale(0.6674 0.5930)">β</text>
<text class="t" font-size="100" transform="translate(1406.47 504.40) scale(0.6813 0.6928)">-W</text>
<text class="b" font-size="100" transform="translate(1394.20 726.50) scale(0.5300 0.5480)">WSe</text>
<text class="t" font-size="100" transform="translate(1509.01 741.80) scale(0.3920 0.3920)" stroke="#000" stroke-width="2.2">x</text>
<text class="b" font-size="100" transform="translate(1527.36 726.50) scale(0.5382 0.5480)">/NP-W</text>
<text class="b" font-size="100" transform="translate(1247.00 908.70) scale(0.5296 0.5480)">WSe</text>
<text class="t" font-size="100" transform="translate(1360.01 922.10) scale(0.3920 0.3920)" stroke="#000" stroke-width="2.2">x</text>
<text class="b" font-size="100" transform="translate(1381.00 908.70) scale(0.5330 0.5480)">S</text>
<text class="t" font-size="100" transform="translate(1416.80 922.10) scale(0.3920 0.3920)" stroke="#000" stroke-width="2.2">y</text>
<text class="b" font-size="100" transform="translate(1434.67 908.60) scale(0.5322 0.5480)">/NP-W_3.6</text>
<text class="b" font-size="100" transform="translate(1277.30 1139.00) scale(0.5394 0.5480)">WSe</text>
<text class="t" font-size="100" transform="translate(1392.41 1152.30) scale(0.3920 0.3920)" stroke="#000" stroke-width="2.2">x</text>
<text class="b" font-size="100" transform="translate(1411.70 1139.00) scale(0.5330 0.5480)">S</text>
<text class="t" font-size="100" transform="translate(1448.00 1152.30) scale(0.3920 0.3920)" stroke="#000" stroke-width="2.2">y</text>
<text class="b" font-size="100" transform="translate(1466.07 1139.00) scale(0.5287 0.5480)">/NP-W_9</text>
<text class="t" font-size="100" transform="translate(91.44 934.26) rotate(-90) scale(0.7070 0.6979)">Intensity (arb. un.)</text>
</svg>
</body></html>
